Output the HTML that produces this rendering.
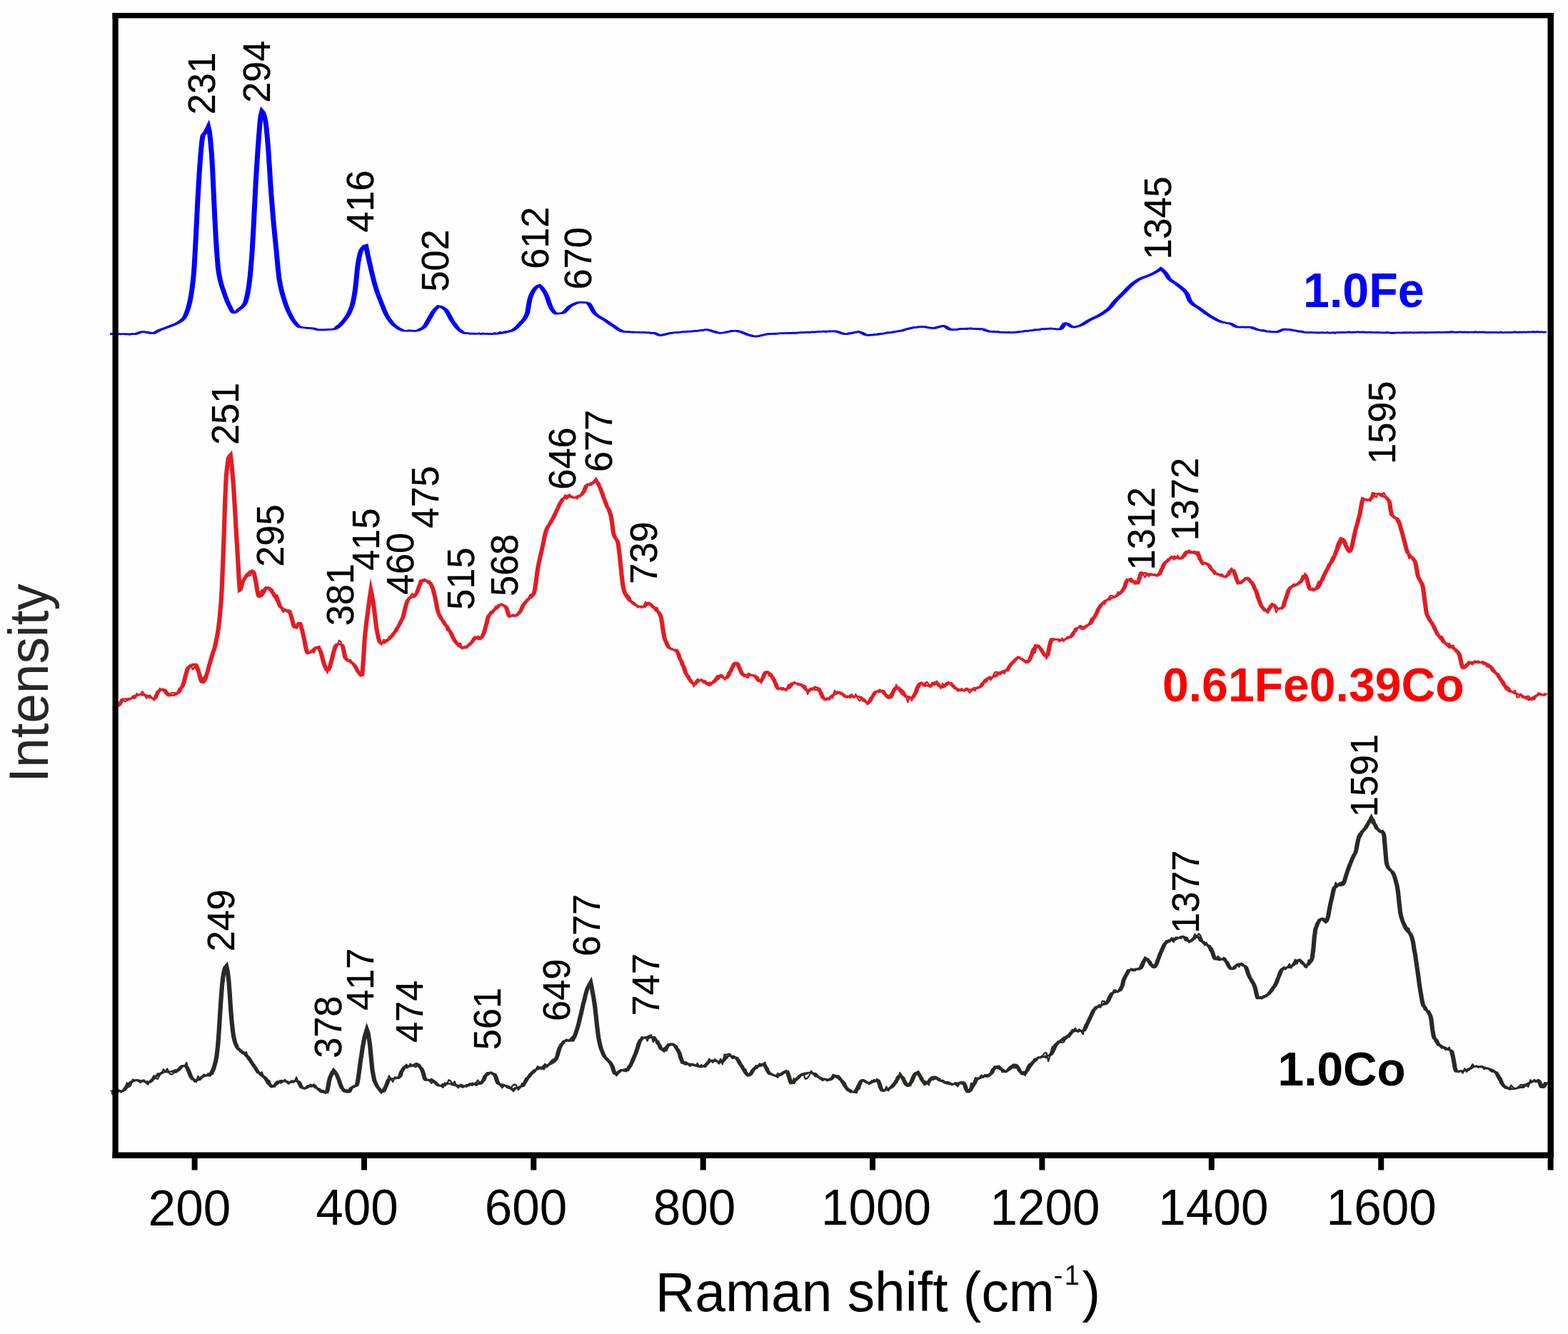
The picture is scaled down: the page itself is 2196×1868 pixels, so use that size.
<!DOCTYPE html><html><head><meta charset="utf-8"><title>Raman spectra</title><style>html,body{margin:0;padding:0;background:#fff}svg{display:block}text{font-family:"Liberation Sans",Arial,sans-serif}</style></head><body>
<svg width="2196" height="1868" viewBox="0 0 2196 1868">
<rect width="2196" height="1868" fill="#fefefe"/>
<path transform="scale(2.7,1)" d="M57.04,467.70 57.60,467.70 58.16,467.70 58.72,467.70 59.28,467.70 59.84,467.70 60.40,467.70 60.96,467.70 61.52,467.70 62.08,467.70 62.64,467.70 63.20,467.70 63.76,467.70 64.32,467.70 64.88,467.70 65.44,467.70 66.00,467.70 66.56,467.70 67.12,467.70 67.69,467.70 68.25,467.70 68.81,467.70 69.37,467.70 69.85,467.70 69.93,467.70 70.49,467.50 71.05,467.08 71.61,466.50 72.17,465.87 72.73,465.27 73.29,464.79 73.85,464.53 74.07,464.50 74.41,464.53 74.97,464.69 75.53,464.97 76.09,465.31 76.65,465.69 77.21,466.07 77.77,466.40 78.33,466.65 78.89,466.79 79.11,466.80 79.45,466.72 80.02,466.28 80.58,465.56 81.14,464.68 81.70,463.75 82.26,462.88 82.70,462.30 82.82,462.17 83.38,461.57 83.94,461.00 84.50,460.45 85.06,459.91 85.62,459.36 86.18,458.81 86.74,458.24 86.96,458.00 87.30,457.64 87.86,457.07 88.42,456.51 88.98,455.96 89.54,455.39 90.10,454.80 90.66,454.18 91.22,453.50 91.78,452.77 92.34,451.96 92.70,451.40 92.91,451.07 93.47,450.07 94.03,448.93 94.59,447.58 95.15,445.97 95.56,444.60 95.71,444.02 96.27,441.24 96.83,437.61 97.39,433.32 97.67,431.00 97.95,428.42 98.51,422.22 99.07,414.44 99.11,413.80 99.63,404.52 100.19,391.48 100.56,381.00 100.75,373.98 101.31,347.21 101.59,332.80 101.87,317.99 102.43,286.77 102.67,275.00 102.99,259.81 103.55,235.49 104.07,217.00 104.11,215.78 104.67,198.97 105.19,190.00 105.23,189.70 105.80,187.55 106.30,186.00 106.36,185.75 106.92,183.24 107.48,180.43 108.04,177.30 108.59,183.31 109.15,196.41 109.71,213.52 109.81,217.00 110.27,238.10 110.82,271.32 110.89,275.00 111.38,302.88 111.94,331.67 111.96,332.80 112.49,354.33 113.05,373.04 113.41,381.00 113.61,384.17 114.16,391.62 114.72,397.49 115.28,402.33 115.84,406.68 116.26,410.00 116.39,411.07 116.95,415.35 117.51,419.35 118.06,423.03 118.62,426.37 119.11,429.00 119.18,429.34 119.73,432.40 120.29,435.32 120.85,437.37 121.26,437.90 121.41,437.88 121.96,437.41 122.52,436.49 123.08,435.28 123.63,433.98 124.07,433.00 124.19,432.76 124.75,431.64 125.31,430.49 125.86,429.14 126.42,427.44 126.96,425.30 126.98,425.24 127.53,421.44 128.09,415.46 128.65,407.73 129.11,400.30 129.20,398.64 129.76,385.59 130.32,368.47 130.52,361.70 130.88,347.66 131.43,321.36 131.59,313.50 131.99,292.26 132.55,261.56 132.67,255.70 133.10,235.98 133.66,213.12 134.07,197.80 134.22,192.61 134.77,172.92 135.19,163.00 135.33,160.76 135.89,155.25 136.44,156.96 137.00,161.41 137.56,167.56 137.67,168.90 138.11,177.14 138.67,193.03 139.11,207.50 139.22,211.28 139.78,233.98 140.33,258.10 140.52,265.30 140.89,278.60 141.44,297.32 141.96,313.50 142.00,314.61 142.56,330.29 143.11,345.07 143.37,352.00 143.67,360.46 144.22,376.88 144.78,389.96 144.81,390.60 145.33,398.39 145.89,405.16 146.44,410.86 146.96,415.70 147.00,416.04 147.56,420.92 148.11,425.41 148.67,429.52 149.22,433.28 149.78,436.69 149.81,436.90 150.33,439.82 150.89,442.76 151.44,445.47 152.00,447.90 152.56,450.02 152.67,450.40 153.11,451.93 153.67,453.82 154.22,455.54 154.78,456.92 155.33,457.82 155.56,458.00 155.89,458.18 156.44,458.43 157.00,458.64 157.56,458.81 158.11,458.94 158.67,459.05 159.22,459.15 159.78,459.24 160.33,459.34 160.89,459.45 161.44,459.58 162.00,459.75 162.56,459.95 162.67,460.00 163.11,460.27 163.67,460.75 164.22,461.27 164.78,461.73 165.33,461.98 165.52,462.00 165.89,462.00 166.44,461.98 167.00,461.96 167.56,461.92 168.11,461.87 168.67,461.81 169.22,461.74 169.78,461.66 170.33,461.57 170.89,461.46 171.44,461.35 172.00,461.23 172.56,461.09 172.93,461.00 173.11,460.93 173.67,460.55 174.22,459.89 174.78,458.99 175.33,457.87 175.89,456.56 176.44,455.09 177.00,453.48 177.56,451.76 178.11,449.95 178.67,448.08 179.22,446.18 179.33,445.80 179.78,444.19 180.33,441.92 180.89,439.28 181.44,436.22 182.00,432.65 182.56,428.50 183.11,422.87 183.67,415.26 184.19,406.80 184.22,406.14 184.78,392.63 185.33,377.07 185.78,367.70 185.89,366.04 186.44,358.50 187.00,352.79 187.37,350.40 187.56,349.55 188.11,347.23 188.67,345.35 189.22,344.10 189.78,343.65 190.33,350.96 190.89,358.06 191.44,364.94 192.00,371.60 192.22,374.20 192.56,378.08 193.11,384.51 193.67,390.70 194.22,396.47 194.63,400.30 194.78,401.61 195.33,406.27 195.89,410.61 196.44,414.69 197.00,418.58 197.56,422.36 197.81,424.10 198.11,426.10 198.67,429.87 199.22,433.57 199.78,437.08 200.33,440.28 200.89,443.05 201.04,443.70 201.44,445.40 202.00,447.61 202.56,449.67 203.11,451.56 203.67,453.27 204.22,454.79 204.78,456.10 205.07,456.70 205.33,457.20 205.89,458.28 206.44,459.33 207.00,460.32 207.56,461.22 208.11,461.99 208.67,462.60 209.22,463.01 209.78,463.19 209.89,463.20 210.33,463.20 210.89,463.20 211.44,463.20 212.00,463.20 212.56,463.20 213.11,463.20 213.67,463.20 214.22,463.20 214.78,463.20 215.33,463.20 215.52,463.20 215.89,463.15 216.44,462.90 217.00,462.47 217.56,461.87 218.11,461.15 218.67,460.32 219.22,459.41 219.52,458.90 219.78,458.36 220.33,456.68 220.89,454.45 221.44,451.89 222.00,449.21 222.56,446.61 222.74,445.80 223.11,444.14 223.67,441.46 224.22,438.79 224.78,436.36 225.15,435.00 225.33,434.39 225.89,432.66 226.44,431.09 227.00,429.74 227.56,428.65 228.11,428.82 228.67,429.30 229.22,430.02 229.78,430.92 230.33,431.94 230.78,432.80 230.89,433.03 231.44,434.65 232.00,436.87 232.56,439.50 233.11,442.35 233.67,445.21 234.22,447.89 234.78,450.20 235.33,452.28 235.89,454.36 236.44,456.39 237.00,458.32 237.56,460.09 238.11,461.64 238.67,462.91 238.81,463.20 239.22,463.96 239.78,464.97 240.33,465.81 240.89,466.36 241.22,466.50 241.44,466.54 242.00,466.63 242.56,466.71 243.11,466.79 243.67,466.86 244.22,466.93 244.78,466.99 245.33,467.05 245.89,467.10 246.44,467.15 247.00,467.20 247.56,467.24 248.11,467.28 248.67,467.32 249.22,467.35 249.78,467.37 250.33,467.40 250.89,467.42 251.44,467.44 252.00,467.46 252.56,467.47 253.11,467.48 253.67,467.49 254.22,467.49 254.78,467.50 255.33,467.50 255.70,467.50 255.89,467.50 256.44,467.47 257.00,467.41 257.56,467.32 258.11,467.19 258.67,467.04 259.22,466.85 259.78,466.64 260.33,466.41 260.89,466.14 261.44,465.85 262.00,465.54 262.56,465.20 263.11,464.84 263.67,464.46 264.22,464.06 264.78,463.64 265.33,463.20 265.89,462.62 266.44,461.78 267.00,460.73 267.56,459.49 268.11,458.11 268.67,456.60 269.22,455.02 269.78,453.39 270.15,452.30 270.33,451.76 270.89,450.13 271.44,448.38 272.00,446.37 272.56,443.93 273.11,440.94 273.37,439.30 273.67,436.38 274.22,427.78 274.78,419.44 274.96,417.60 275.33,414.80 275.89,411.18 276.44,408.20 277.00,405.85 277.37,404.60 277.56,404.04 278.11,402.46 278.67,401.09 279.22,400.08 279.78,399.55 280.34,400.88 280.91,402.57 281.47,404.57 282.04,406.83 282.61,409.29 283.00,411.10 283.17,411.96 283.74,415.54 284.30,419.85 284.87,424.35 285.43,428.52 286.00,431.84 286.22,432.80 286.56,434.11 287.13,436.21 287.70,437.96 288.26,439.07 288.63,439.30 288.83,439.29 289.39,439.22 289.96,439.08 290.52,438.87 291.09,438.61 291.65,438.31 291.85,438.20 292.22,437.84 292.79,436.80 293.35,435.33 293.92,433.62 294.48,431.86 295.05,430.22 295.61,428.91 295.85,428.50 296.18,428.00 296.74,427.17 297.31,426.37 297.88,425.63 298.44,424.96 299.01,424.36 299.57,423.86 300.14,423.47 300.70,423.20 301.26,423.22 301.82,423.28 302.37,423.37 302.93,423.49 303.48,423.65 304.04,423.84 304.60,424.06 304.70,424.10 305.15,424.66 305.71,426.24 306.27,428.50 306.82,431.16 307.38,433.93 307.93,436.50 308.49,438.59 308.74,439.30 309.05,440.03 309.60,441.24 310.16,442.33 310.71,443.32 311.27,444.25 311.83,445.14 312.38,446.02 312.94,446.93 313.50,447.89 313.56,448.00 314.05,448.90 314.61,449.92 315.16,450.95 315.72,451.98 316.28,453.00 316.83,454.01 317.39,455.00 317.94,455.97 318.37,456.70 318.50,456.92 319.06,457.95 319.61,459.05 320.17,460.16 320.73,461.25 321.28,462.25 321.84,463.11 322.39,463.78 322.95,464.21 323.19,464.30 323.51,464.39 324.06,464.52 324.62,464.64 325.18,464.75 325.73,464.84 326.29,464.92 326.84,464.99 327.40,465.06 327.96,465.11 328.51,465.16 329.07,465.20 329.62,465.24 330.18,465.27 330.74,465.30 331.29,465.33 331.85,465.36 332.41,465.39 332.96,465.43 333.52,465.47 334.07,465.51 334.63,465.56 335.19,465.61 335.74,465.68 336.30,465.75 336.85,465.83 337.41,465.93 337.97,466.04 338.52,466.16 339.07,466.30 339.08,466.30 339.64,466.62 340.19,467.20 340.75,467.90 341.30,468.59 341.86,469.13 342.42,469.39 342.52,469.40 342.97,469.36 343.53,469.19 344.09,468.93 344.64,468.60 345.20,468.22 345.75,467.81 346.31,467.40 346.87,467.01 347.42,466.67 347.98,466.39 348.22,466.30 348.53,466.20 349.09,466.02 349.65,465.86 350.20,465.70 350.76,465.56 351.32,465.42 351.87,465.29 352.43,465.17 352.98,465.05 353.54,464.94 354.10,464.83 354.65,464.73 355.21,464.62 355.76,464.52 356.32,464.42 356.88,464.32 357.43,464.21 357.99,464.11 358.55,464.00 359.10,463.88 359.66,463.76 360.21,463.64 360.77,463.51 361.33,463.37 361.88,463.22 361.96,463.20 362.44,463.05 362.99,462.83 363.55,462.59 364.11,462.35 364.66,462.12 365.22,461.92 365.78,461.78 366.33,461.71 366.52,461.70 366.89,461.74 367.44,461.93 368.00,462.26 368.56,462.69 369.11,463.19 369.67,463.74 370.23,464.30 370.78,464.85 371.34,465.35 371.89,465.77 372.45,466.09 373.01,466.27 373.33,466.30 373.56,466.29 374.12,466.22 374.67,466.07 375.23,465.86 375.79,465.61 376.34,465.32 376.90,465.01 377.46,464.69 378.01,464.37 378.57,464.07 379.12,463.79 379.68,463.55 380.24,463.37 380.79,463.25 381.35,463.20 381.37,463.20 381.90,463.26 382.46,463.44 383.02,463.73 383.57,464.12 384.13,464.58 384.69,465.11 385.24,465.68 385.80,466.29 386.35,466.91 386.91,467.54 387.47,468.16 388.02,468.76 388.58,469.32 389.13,469.82 389.69,470.25 390.25,470.60 390.80,470.84 391.36,470.98 391.67,471.00 391.92,470.99 392.47,470.90 393.03,470.72 393.58,470.47 394.14,470.17 394.70,469.83 395.25,469.48 395.81,469.12 396.37,468.76 396.92,468.44 397.48,468.16 398.03,467.93 398.52,467.80 398.59,467.78 399.15,467.67 399.70,467.56 400.26,467.46 400.81,467.36 401.37,467.27 401.93,467.18 402.48,467.10 403.04,467.02 403.60,466.95 404.15,466.88 404.71,466.81 405.26,466.74 405.82,466.68 406.38,466.62 406.93,466.56 407.49,466.51 408.04,466.45 408.60,466.40 409.16,466.34 409.71,466.29 410.27,466.24 410.83,466.19 411.38,466.14 411.94,466.09 412.49,466.03 413.05,465.98 413.61,465.92 414.16,465.87 414.72,465.81 415.27,465.74 415.67,465.70 415.83,465.68 416.39,465.61 416.94,465.54 417.50,465.47 418.06,465.39 418.61,465.32 419.17,465.24 419.72,465.16 420.28,465.07 420.84,464.99 421.39,464.91 421.95,464.83 422.51,464.75 423.06,464.67 423.62,464.59 424.17,464.51 424.73,464.43 425.29,464.36 425.84,464.29 426.40,464.22 426.95,464.16 427.51,464.10 428.07,464.05 428.62,464.00 429.18,463.95 429.74,463.91 430.29,463.87 430.85,463.85 431.40,463.82 431.96,463.81 432.52,463.80 432.81,463.80 433.07,463.82 433.63,464.02 434.18,464.38 434.74,464.86 435.30,465.41 435.85,466.00 436.41,466.56 436.97,467.07 437.52,467.48 438.08,467.73 438.52,467.80 438.63,467.80 439.19,467.72 439.75,467.54 440.30,467.28 440.86,466.96 441.41,466.61 441.97,466.23 442.53,465.86 443.08,465.51 443.64,465.19 444.20,464.94 444.75,464.77 445.31,464.70 445.37,464.70 445.86,464.85 446.42,465.32 446.98,466.02 447.53,466.84 448.09,467.69 448.65,468.46 449.20,469.06 449.76,469.37 449.96,469.40 450.31,469.39 450.87,469.36 451.43,469.29 451.98,469.20 452.54,469.09 453.09,468.95 453.65,468.79 454.21,468.62 454.76,468.43 455.32,468.22 455.88,468.01 456.43,467.78 456.99,467.55 457.54,467.31 458.10,467.07 458.66,466.82 459.21,466.58 459.77,466.35 460.32,466.11 460.88,465.89 461.37,465.70 461.44,465.67 461.99,465.46 462.55,465.25 463.11,465.03 463.66,464.80 464.22,464.57 464.77,464.32 465.33,464.07 465.89,463.81 466.44,463.54 467.00,463.26 467.11,463.20 467.55,462.95 468.11,462.59 468.67,462.20 469.22,461.77 469.78,461.33 470.34,460.89 470.89,460.44 471.45,460.02 472.00,459.62 472.56,459.26 473.12,458.95 473.67,458.70 473.96,458.60 474.23,458.51 474.79,458.34 475.34,458.17 475.90,458.01 476.45,457.87 477.01,457.75 477.57,457.66 478.12,457.61 478.52,457.60 478.68,457.60 479.23,457.68 479.79,457.84 480.35,458.06 480.90,458.32 481.46,458.59 482.02,458.87 482.57,459.11 483.13,459.32 483.68,459.45 484.22,459.50 484.24,459.50 484.80,459.39 485.35,459.12 485.91,458.72 486.46,458.25 487.02,457.75 487.58,457.27 488.13,456.85 488.69,456.55 489.25,456.41 489.37,456.40 489.80,456.57 490.36,457.21 490.91,458.16 491.47,459.25 492.03,460.31 492.58,461.16 493.14,461.65 493.37,461.70 493.69,461.69 494.25,461.65 494.81,461.56 495.36,461.45 495.92,461.32 496.48,461.16 497.03,461.00 497.59,460.83 498.14,460.67 498.70,460.52 499.26,460.38 499.81,460.26 500.37,460.17 500.93,460.11 501.37,460.10 501.48,460.10 502.04,460.10 502.59,460.11 503.15,460.13 503.71,460.15 504.26,460.17 504.82,460.21 505.37,460.24 505.93,460.29 506.49,460.34 507.04,460.39 507.60,460.46 508.16,460.53 508.71,460.60 509.27,460.68 509.37,460.70 509.82,460.88 510.38,461.35 510.94,461.99 511.49,462.67 512.05,463.28 512.60,463.71 512.81,463.80 513.16,463.91 513.72,464.08 514.27,464.24 514.83,464.39 515.39,464.54 515.94,464.68 516.50,464.81 517.05,464.93 517.61,465.04 518.17,465.14 518.72,465.24 519.28,465.33 519.83,465.40 520.39,465.47 520.95,465.53 521.50,465.58 522.06,465.63 522.62,465.66 523.17,465.68 523.73,465.70 524.26,465.70 524.28,465.70 524.84,465.68 525.40,465.63 525.95,465.54 526.51,465.43 527.07,465.30 527.62,465.14 528.18,464.97 528.73,464.79 529.29,464.59 529.85,464.39 530.40,464.19 530.96,463.99 531.51,463.79 532.07,463.60 532.63,463.42 533.18,463.25 533.37,463.20 533.74,463.10 534.30,462.93 534.85,462.75 535.41,462.56 535.96,462.37 536.52,462.17 537.08,461.97 537.63,461.77 538.19,461.57 538.74,461.38 539.30,461.19 539.86,461.01 540.41,460.84 540.97,460.68 541.53,460.54 542.08,460.41 542.64,460.30 543.19,460.22 543.75,460.15 544.31,460.11 544.81,460.10 544.86,460.10 545.42,460.14 545.97,460.22 546.53,460.34 547.09,460.48 547.64,460.63 548.20,460.77 548.76,460.89 549.31,460.97 549.85,461.00 549.87,461.00 550.42,460.12 550.98,458.09 551.54,455.67 552.09,453.59 552.65,452.61 552.70,452.60 553.21,452.83 553.76,453.53 554.32,454.53 554.87,455.64 555.43,456.71 555.99,457.54 556.54,457.97 556.70,458.00 557.10,457.96 557.65,457.77 558.21,457.48 558.77,457.11 559.32,456.70 559.59,456.50 559.88,456.27 560.44,455.70 560.99,455.00 561.55,454.20 562.10,453.31 562.66,452.38 563.22,451.41 563.77,450.45 564.33,449.50 564.88,448.61 565.30,448.00 565.44,447.80 566.00,447.03 566.55,446.29 567.11,445.58 567.67,444.87 568.22,444.16 568.78,443.43 569.33,442.68 569.89,441.90 570.45,441.08 571.00,440.20 571.00,440.20 571.56,439.27 572.11,438.31 572.67,437.30 573.23,436.25 573.78,435.13 574.34,433.95 574.90,432.69 575.45,431.35 575.59,431.00 576.01,429.85 576.56,428.08 577.12,426.15 577.68,424.19 578.23,422.35 578.44,421.70 578.79,420.69 579.35,419.12 579.90,417.61 580.46,416.13 581.01,414.67 581.57,413.22 582.13,411.75 582.44,410.90 582.68,410.25 583.24,408.70 583.79,407.13 584.35,405.54 584.91,403.97 585.46,402.44 586.02,400.97 586.58,399.59 587.00,398.60 587.13,398.31 587.69,397.08 588.24,395.88 588.80,394.73 589.36,393.64 589.91,392.63 590.47,391.70 591.00,390.90 591.02,390.87 591.58,390.13 592.14,389.46 592.69,388.85 593.25,388.27 593.81,387.73 594.36,387.20 594.92,386.66 595.47,386.11 596.03,385.52 596.59,384.89 596.74,384.70 597.14,384.20 597.70,383.49 598.25,382.75 598.81,381.97 599.37,381.15 599.59,380.80 599.92,380.27 600.48,379.34 601.04,378.34 601.59,377.29 602.15,376.20 602.70,377.32 603.26,378.67 603.82,380.22 604.37,381.91 604.74,383.10 604.93,383.77 605.48,386.18 606.04,388.66 606.44,390.10 606.59,390.52 607.15,391.93 607.71,393.15 608.26,394.24 608.82,395.24 609.37,396.20 609.93,397.18 610.48,398.23 611.04,399.40 611.04,399.41 611.60,400.61 612.15,401.76 612.71,402.91 613.26,404.11 613.82,405.42 614.37,406.88 614.93,408.56 615.49,410.50 615.59,410.90 616.04,413.40 616.60,417.56 617.15,421.12 617.30,421.70 617.71,423.04 618.27,424.61 618.82,425.95 619.38,427.11 619.93,428.14 620.49,429.10 621.04,430.01 621.60,430.95 622.16,431.94 622.44,432.50 622.71,433.03 623.27,434.15 623.82,435.27 624.38,436.39 624.93,437.49 625.49,438.58 626.05,439.64 626.60,440.67 627.16,441.66 627.71,442.60 628.15,443.30 628.27,443.49 628.82,444.37 629.38,445.25 629.94,446.12 630.49,446.97 631.05,447.78 631.60,448.55 632.16,449.27 632.72,449.91 633.27,450.48 633.83,450.95 633.89,451.00 634.38,451.33 634.94,451.64 635.49,451.90 636.05,452.14 636.61,452.37 637.16,452.62 637.72,452.91 638.27,453.27 638.44,453.40 638.83,453.79 639.38,454.62 639.94,455.62 640.50,456.61 641.05,457.44 641.61,457.93 641.89,458.00 642.16,458.00 642.72,458.00 643.27,458.00 643.83,458.00 644.39,458.00 644.94,458.00 645.50,458.00 646.05,458.00 646.61,458.00 647.16,458.00 647.72,458.00 648.15,458.00 648.28,458.01 648.83,458.19 649.39,458.57 649.94,459.10 650.50,459.72 651.06,460.37 651.61,460.98 652.17,461.51 652.72,461.89 652.74,461.90 653.28,462.17 653.83,462.45 654.39,462.73 654.95,463.00 655.50,463.26 656.06,463.51 656.61,463.75 657.17,463.98 657.72,464.18 658.28,464.37 658.84,464.54 659.39,464.69 659.95,464.81 660.50,464.90 661.06,464.96 661.61,465.00 661.89,465.00 662.17,464.96 662.73,464.64 663.28,464.11 663.84,463.43 664.39,462.70 664.95,462.01 665.50,461.44 666.06,461.08 666.44,461.00 666.62,461.00 667.17,461.05 667.73,461.15 668.28,461.30 668.84,461.49 669.40,461.71 669.95,461.97 670.51,462.24 671.06,462.54 671.62,462.85 672.17,463.17 672.73,463.49 673.29,463.81 673.84,464.11 674.40,464.40 674.95,464.67 675.51,464.91 676.06,465.12 676.62,465.29 677.18,465.42 677.73,465.50 677.78,465.50 678.29,465.54 678.84,465.58 679.40,465.62 679.95,465.66 680.51,465.70 681.07,465.74 681.62,465.77 682.18,465.80 682.73,465.83 683.29,465.86 683.85,465.89 684.40,465.91 684.96,465.93 685.51,465.95 686.07,465.96 686.62,465.98 687.18,465.99 687.74,465.99 688.29,466.00 688.85,466.00 688.89,466.00 689.40,466.00 689.96,465.99 690.51,465.97 691.07,465.94 691.63,465.91 692.18,465.87 692.74,465.83 693.29,465.79 693.85,465.74 694.40,465.69 694.96,465.63 695.52,465.58 696.07,465.52 696.63,465.47 697.18,465.41 697.74,465.36 698.29,465.30 698.85,465.25 699.41,465.20 699.96,465.16 700.52,465.12 701.07,465.08 701.63,465.05 702.19,465.03 702.74,465.01 703.30,465.00 703.70,465.00 703.85,465.00 704.41,465.00 704.96,465.01 705.52,465.03 706.08,465.05 706.63,465.07 707.19,465.09 707.74,465.12 708.30,465.15 708.85,465.19 709.41,465.23 709.97,465.27 710.52,465.31 711.08,465.35 711.63,465.39 712.19,465.44 712.74,465.48 713.30,465.53 713.86,465.57 714.41,465.62 714.97,465.66 715.52,465.70 716.08,465.74 716.63,465.78 717.19,465.82 717.75,465.85 718.30,465.88 718.86,465.91 719.41,465.94 719.97,465.96 720.53,465.98 721.08,465.99 721.64,466.00 722.19,466.00 722.22,466.00 722.75,466.00 723.30,466.00 723.86,465.99 724.42,465.99 724.97,465.98 725.53,465.97 726.08,465.96 726.64,465.95 727.19,465.94 727.75,465.92 728.31,465.91 728.86,465.89 729.42,465.88 729.97,465.86 730.53,465.84 731.08,465.83 731.64,465.81 732.20,465.79 732.75,465.77 733.31,465.75 733.86,465.73 734.42,465.71 734.98,465.69 735.53,465.67 736.09,465.65 736.64,465.63 737.20,465.61 737.75,465.59 738.31,465.57 738.87,465.56 739.42,465.54 739.98,465.52 740.53,465.51 740.74,465.50 741.09,465.49 741.64,465.47 742.20,465.46 742.76,465.44 743.31,465.42 743.87,465.40 744.42,465.38 744.98,465.37 745.53,465.35 746.09,465.33 746.65,465.31 747.20,465.29 747.76,465.27 748.31,465.25 748.87,465.23 749.42,465.21 749.98,465.19 750.54,465.17 751.09,465.15 751.65,465.13 752.20,465.12 752.76,465.10 753.32,465.09 753.87,465.07 754.43,465.06 754.98,465.05 755.54,465.04 756.09,465.03 756.65,465.02 757.21,465.01 757.76,465.01 758.32,465.00 758.87,465.00 759.26,465.00 759.43,465.00 759.98,465.00 760.54,465.01 761.10,465.01 761.65,465.02 762.21,465.03 762.76,465.05 763.32,465.06 763.87,465.08 764.43,465.10 764.99,465.11 765.54,465.13 766.10,465.15 766.65,465.18 767.21,465.20 767.77,465.22 768.32,465.24 768.88,465.26 769.43,465.29 769.99,465.31 770.54,465.33 771.10,465.35 771.66,465.37 772.21,465.39 772.77,465.41 773.32,465.43 773.88,465.44 774.43,465.46 774.99,465.47 775.55,465.48 776.10,465.49 776.66,465.49 777.21,465.50 777.77,465.50 777.78,465.50 778.32,465.50 778.88,465.49 779.44,465.48 779.99,465.47 780.55,465.45 781.10,465.44 781.66,465.42 782.21,465.39 782.77,465.37 783.33,465.34 783.88,465.32 784.44,465.29 784.99,465.26 785.55,465.23 786.11,465.20 786.66,465.18 787.22,465.15 787.77,465.12 788.33,465.10 788.88,465.08 789.44,465.06 790.00,465.04 790.55,465.03 791.11,465.01 791.66,465.01 792.22,465.00 792.59,465.00 792.77,465.00 793.33,465.00 793.89,465.00 794.44,465.00 795.00,465.00 795.55,465.00 796.11,465.00 796.66,465.00 797.22,465.00 797.78,465.00 798.33,465.00 798.89,465.00 799.44,465.00 800.00,465.00 800.55,465.00 801.11,465.00 801.67,465.00 802.22,465.00" fill="none" stroke="#0000ff" stroke-width="2.6" stroke-linejoin="miter" stroke-miterlimit="30" stroke-linecap="butt"/>
<path transform="scale(1.0,1)" d="M155.00,467.3 157.70,467.8 160.40,468.0 163.10,467.9 165.80,467.4 168.50,468.1 171.20,467.9 173.90,467.9 176.60,468.0 179.30,468.1 182.00,468.5 184.70,467.5 187.40,467.7 190.10,467.9 192.80,466.1 195.50,465.9 198.20,464.8 200.90,464.6 203.60,465.3 206.30,464.9 209.00,465.7 211.70,466.0 214.40,466.3 217.10,464.9 219.80,464.5 222.50,462.5 225.20,462.2 227.90,460.4 230.60,459.7 233.30,458.6 236.00,457.5 238.70,455.9 241.40,455.3 244.10,454.2 246.80,453.0 249.50,452.0 252.20,449.4 254.90,447.2 257.60,444.7 260.30,438.5 263.00,432.8 265.70,422.0 268.40,407.0 271.10,385.2 273.80,341.5 276.50,289.0 279.20,244.8 281.90,209.3 284.60,189.8 287.30,185.3 290.00,181.1 292.70,185.5 295.40,207.5 298.10,248.7 300.80,303.3 303.50,347.9 306.20,381.4 308.90,390.8 311.60,401.2 314.30,410.6 317.00,417.0 319.70,424.3 322.40,430.8 325.10,434.8 327.80,437.4 330.50,436.3 333.20,434.0 335.90,432.2 338.60,429.7 341.30,426.6 344.00,419.8 346.70,408.7 349.40,392.1 352.10,364.6 354.80,322.0 357.50,269.6 360.20,225.4 362.90,187.0 365.60,160.8 368.30,158.9 371.00,166.8 373.70,188.0 376.40,220.1 379.10,260.8 381.80,295.1 384.50,325.1 387.20,353.0 389.90,379.6 392.60,397.9 395.30,408.7 398.00,419.1 400.70,426.8 403.40,433.5 406.10,439.7 408.80,444.1 411.50,449.2 414.20,452.5 416.90,455.4 419.60,457.7 422.30,458.0 425.00,458.7 427.70,458.8 430.40,459.5 433.10,459.2 435.80,460.1 438.50,460.0 441.20,460.6 443.90,461.6 446.60,461.7 449.30,461.7 452.00,461.9 454.70,461.6 457.40,461.5 460.10,461.2 462.80,461.1 465.50,461.4 468.20,460.5 470.90,457.0 473.60,455.6 476.30,453.0 479.00,450.8 481.70,448.1 484.40,445.1 487.10,440.0 489.80,434.3 492.50,428.7 495.20,417.1 497.90,401.4 500.60,376.7 503.30,360.9 506.00,349.8 508.70,347.9 511.40,344.6 514.10,351.5 516.80,364.3 519.50,376.0 522.20,388.0 524.90,398.3 527.60,406.5 530.30,413.6 533.00,420.8 535.70,427.9 538.40,433.5 541.10,440.0 543.80,445.0 546.50,448.5 549.20,451.5 551.90,454.6 554.60,457.6 557.30,458.5 560.00,459.7 562.70,461.0 565.40,463.1 568.10,463.2 570.80,463.0 573.50,462.5 576.20,462.8 578.90,463.3 581.60,463.4 584.30,462.8 587.00,460.9 589.70,460.3 592.40,459.5 595.10,454.5 597.80,452.0 600.50,446.8 603.20,442.4 605.90,438.6 608.60,434.5 611.30,432.1 614.00,429.3 616.70,429.9 619.40,431.0 622.10,432.1 624.80,435.7 627.50,439.2 630.20,444.2 632.90,448.9 635.60,451.8 638.30,455.7 641.00,459.0 643.70,461.9 646.40,464.0 649.10,465.6 651.80,466.7 654.50,466.5 657.20,467.4 659.90,467.3 662.60,467.1 665.30,467.3 668.00,467.4 670.70,466.5 673.40,468.0 676.10,466.6 678.80,467.3 681.50,466.9 684.20,467.6 686.90,467.6 689.60,467.6 692.30,466.2 695.00,467.0 697.70,466.4 700.40,465.1 703.10,465.9 705.80,464.9 708.50,464.2 711.20,464.2 713.90,463.4 716.60,463.2 719.30,460.6 722.00,458.2 724.70,455.8 727.40,454.3 730.10,451.3 732.80,447.0 735.50,443.0 738.20,438.5 740.90,425.9 743.60,415.3 746.30,409.9 749.00,405.1 751.70,402.2 754.40,399.9 757.10,401.6 759.80,405.5 762.50,408.9 765.20,413.7 767.90,420.6 770.60,427.2 773.30,432.9 776.00,436.3 778.70,438.6 781.40,438.9 784.10,438.9 786.80,438.5 789.50,436.5 792.20,434.2 794.90,431.5 797.60,429.1 800.30,428.0 803.00,426.6 805.70,425.4 808.40,424.1 811.10,424.0 813.80,423.2 816.50,423.7 819.20,423.8 821.90,423.7 824.60,426.9 827.30,430.5 830.00,434.7 832.70,438.2 835.40,440.0 838.10,442.2 840.80,444.1 843.50,445.9 846.20,447.3 848.90,448.9 851.60,451.3 854.30,453.3 857.00,454.5 859.70,457.4 862.40,458.5 865.10,459.7 867.80,462.2 870.50,462.5 873.20,464.0 875.90,464.1 878.60,465.0 881.30,464.4 884.00,465.1 886.70,465.0 889.40,464.9 892.10,465.2 894.80,464.9 897.50,465.7 900.20,465.2 902.90,465.4 905.60,466.1 908.30,465.8 911.00,466.7 913.70,466.7 916.40,466.0 919.10,467.5 921.80,468.3 924.50,470.0 927.20,468.7 929.90,468.1 932.60,467.7 935.30,467.2 938.00,466.4 940.70,466.3 943.40,465.8 946.10,465.5 948.80,466.1 951.50,465.4 954.20,464.8 956.90,464.4 959.60,464.6 962.30,464.0 965.00,463.8 967.70,464.4 970.40,463.7 973.10,463.3 975.80,463.4 978.50,462.8 981.20,462.7 983.90,463.0 986.60,462.0 989.30,461.5 992.00,461.9 994.70,463.2 997.40,463.6 1000.10,464.5 1002.80,464.4 1005.50,465.5 1008.20,466.3 1010.90,466.1 1013.60,465.6 1016.30,465.0 1019.00,465.2 1021.70,464.3 1024.40,463.2 1027.10,463.1 1029.80,463.2 1032.50,464.1 1035.20,464.3 1037.90,465.1 1040.60,466.4 1043.30,467.1 1046.00,467.9 1048.70,468.8 1051.40,469.3 1054.10,469.8 1056.80,471.2 1059.50,471.0 1062.20,470.8 1064.90,469.9 1067.60,469.3 1070.30,468.9 1073.00,468.4 1075.70,467.2 1078.40,467.7 1081.10,467.5 1083.80,467.6 1086.50,467.5 1089.20,467.1 1091.90,466.9 1094.60,466.5 1097.30,467.0 1100.00,466.6 1102.70,466.5 1105.40,466.9 1108.10,466.7 1110.80,466.1 1113.50,466.7 1116.20,466.3 1118.90,465.9 1121.60,465.4 1124.30,465.3 1127.00,465.8 1129.70,464.7 1132.40,465.9 1135.10,465.4 1137.80,464.9 1140.50,465.5 1143.20,464.9 1145.90,464.3 1148.60,464.4 1151.30,464.1 1154.00,464.0 1156.70,465.0 1159.40,464.2 1162.10,464.0 1164.80,464.2 1167.50,464.0 1170.20,464.0 1172.90,464.5 1175.60,464.9 1178.30,466.6 1181.00,466.9 1183.70,468.0 1186.40,467.4 1189.10,466.4 1191.80,466.3 1194.50,466.5 1197.20,465.3 1199.90,465.3 1202.60,463.9 1205.30,465.5 1208.00,467.1 1210.70,467.1 1213.40,469.2 1216.10,469.1 1218.80,468.7 1221.50,469.1 1224.20,468.1 1226.90,468.3 1229.60,467.5 1232.30,467.4 1235.00,467.4 1237.70,467.1 1240.40,466.3 1243.10,465.2 1245.80,466.3 1248.50,465.1 1251.20,465.3 1253.90,464.1 1256.60,463.8 1259.30,463.6 1262.00,463.0 1264.70,463.0 1267.40,461.1 1270.10,460.8 1272.80,460.4 1275.50,459.8 1278.20,459.0 1280.90,458.6 1283.60,458.7 1286.30,457.9 1289.00,457.7 1291.70,457.6 1294.40,458.2 1297.10,457.7 1299.80,459.2 1302.50,458.8 1305.20,459.0 1307.90,459.3 1310.60,458.4 1313.30,457.9 1316.00,457.5 1318.70,457.2 1321.40,456.7 1324.10,457.6 1326.80,459.0 1329.50,460.6 1332.20,461.0 1334.90,461.4 1337.60,461.7 1340.30,461.7 1343.00,460.8 1345.70,460.2 1348.40,460.3 1351.10,460.7 1353.80,460.8 1356.50,460.1 1359.20,459.7 1361.90,460.4 1364.60,460.7 1367.30,460.8 1370.00,460.7 1372.70,461.5 1375.40,460.7 1378.10,462.6 1380.80,462.2 1383.50,464.0 1386.20,464.3 1388.90,464.4 1391.60,464.0 1394.30,464.4 1397.00,464.2 1399.70,464.8 1402.40,465.0 1405.10,465.3 1407.80,464.8 1410.50,465.1 1413.20,464.8 1415.90,465.7 1418.60,465.0 1421.30,465.5 1424.00,464.6 1426.70,464.7 1429.40,464.2 1432.10,464.0 1434.80,463.7 1437.50,463.0 1440.20,463.5 1442.90,462.6 1445.60,463.1 1448.30,461.5 1451.00,461.9 1453.70,462.1 1456.40,461.9 1459.10,460.6 1461.80,461.1 1464.50,460.8 1467.20,460.6 1469.90,460.1 1472.60,459.9 1475.30,460.4 1478.00,460.8 1480.70,461.1 1483.40,460.9 1486.10,459.1 1488.80,456.7 1491.50,453.0 1494.20,453.3 1496.90,454.7 1499.60,456.2 1502.30,457.7 1505.00,458.3 1507.70,457.3 1510.40,456.9 1513.10,455.1 1515.80,453.4 1518.50,452.2 1521.20,450.6 1523.90,450.1 1526.60,448.4 1529.30,446.8 1532.00,445.1 1534.70,443.3 1537.40,442.3 1540.10,440.8 1542.80,439.1 1545.50,437.5 1548.20,436.0 1550.90,434.1 1553.60,431.3 1556.30,428.4 1559.00,425.2 1561.70,421.6 1564.40,419.6 1567.10,416.6 1569.80,413.7 1572.50,411.2 1575.20,408.2 1577.90,405.5 1580.60,403.4 1583.30,400.6 1586.00,397.9 1588.70,395.4 1591.40,394.9 1594.10,392.2 1596.80,390.8 1599.50,389.1 1602.20,388.5 1604.90,387.5 1607.60,386.3 1610.30,385.5 1613.00,383.2 1615.70,382.9 1618.40,381.0 1621.10,379.2 1623.80,377.6 1626.50,377.1 1629.20,379.7 1631.90,382.1 1634.60,386.1 1637.30,391.0 1640.00,392.3 1642.70,394.0 1645.40,396.6 1648.10,398.5 1650.80,400.1 1653.50,403.3 1656.20,404.9 1658.90,408.1 1661.60,411.1 1664.30,415.7 1667.00,421.8 1669.70,423.8 1672.40,426.6 1675.10,428.0 1677.80,430.3 1680.50,432.6 1683.20,434.7 1685.90,436.5 1688.60,437.8 1691.30,439.3 1694.00,442.2 1696.70,443.7 1699.40,445.2 1702.10,446.1 1704.80,447.7 1707.50,449.5 1710.20,449.8 1712.90,451.2 1715.60,451.3 1718.30,452.8 1721.00,452.9 1723.70,453.0 1726.40,454.1 1729.10,456.1 1731.80,457.4 1734.50,457.9 1737.20,458.5 1739.90,457.7 1742.60,458.3 1745.30,458.5 1748.00,457.8 1750.70,458.5 1753.40,459.6 1756.10,459.4 1758.80,460.5 1761.50,461.2 1764.20,462.3 1766.90,463.1 1769.60,462.3 1772.30,463.2 1775.00,464.4 1777.70,463.6 1780.40,464.4 1783.10,464.7 1785.80,464.7 1788.50,464.9 1791.20,463.8 1793.90,462.8 1796.60,461.8 1799.30,461.5 1802.00,461.4 1804.70,461.5 1807.40,462.0 1810.10,462.7 1812.80,463.1 1815.50,462.9 1818.20,464.1 1820.90,463.7 1823.60,463.9 1826.30,464.8 1829.00,465.5 1831.70,465.9 1834.40,465.2 1837.10,465.5 1839.80,466.0 1842.50,465.7 1845.20,466.2 1847.90,466.0 1850.60,465.3 1853.30,465.6 1856.00,466.2 1858.70,465.1 1861.40,466.3 1864.10,465.8 1866.80,465.5 1869.50,466.6 1872.20,465.4 1874.90,465.4 1877.60,465.5 1880.30,465.4 1883.00,465.6 1885.70,465.5 1888.40,464.5 1891.10,465.6 1893.80,465.5 1896.50,465.4 1899.20,465.2 1901.90,464.5 1904.60,465.4 1907.30,465.0 1910.00,464.8 1912.70,465.3 1915.40,465.5 1918.10,465.0 1920.80,465.0 1923.50,465.7 1926.20,465.9 1928.90,465.4 1931.60,465.7 1934.30,465.7 1937.00,466.2 1939.70,465.9 1942.40,465.2 1945.10,465.6 1947.80,466.4 1950.50,466.5 1953.20,466.4 1955.90,465.9 1958.60,465.6 1961.30,466.1 1964.00,465.8 1966.70,465.7 1969.40,465.6 1972.10,465.9 1974.80,465.4 1977.50,465.6 1980.20,466.4 1982.90,465.6 1985.60,466.1 1988.30,465.7 1991.00,465.7 1993.70,465.6 1996.40,466.3 1999.10,465.6 2001.80,465.6 2004.50,465.5 2007.20,465.3 2009.90,465.8 2012.60,465.1 2015.30,464.8 2018.00,465.4 2020.70,465.5 2023.40,464.8 2026.10,465.3 2028.80,465.2 2031.50,464.6 2034.20,464.4 2036.90,465.3 2039.60,465.1 2042.30,465.4 2045.00,464.6 2047.70,465.4 2050.40,465.0 2053.10,465.2 2055.80,465.7 2058.50,465.1 2061.20,465.1 2063.90,465.0 2066.60,464.7 2069.30,465.2 2072.00,464.7 2074.70,464.9 2077.40,464.6 2080.10,465.6 2082.80,465.3 2085.50,465.8 2088.20,465.2 2090.90,465.3 2093.60,465.2 2096.30,465.1 2099.00,466.1 2101.70,464.5 2104.40,465.9 2107.10,465.8 2109.80,465.2 2112.50,465.4 2115.20,465.9 2117.90,465.3 2120.60,464.5 2123.30,465.0 2126.00,465.6 2128.70,464.8 2131.40,465.5 2134.10,464.9 2136.80,465.3 2139.50,464.8 2142.20,464.8 2144.90,464.9 2147.60,464.2 2150.30,465.2 2153.00,464.2 2155.70,465.0 2158.40,464.6 2161.10,465.1 2163.80,465.4" fill="none" stroke="#0000ff" stroke-width="2.3" stroke-linejoin="round"/>
<path transform="scale(2.7,1)" d="M58.52,990.00 59.08,990.31 59.64,989.78 60.20,988.53 60.76,989.07 61.32,987.96 61.44,987.80 61.88,987.00 62.44,984.39 63.00,981.54 63.56,979.27 63.96,978.70 64.12,978.70 64.68,978.62 65.24,978.46 65.80,979.00 66.36,978.70 66.48,978.70 66.92,978.24 67.48,978.25 68.04,977.96 68.60,977.26 69.16,977.39 69.72,976.53 70.28,973.92 70.84,973.58 71.40,973.72 71.96,972.95 72.52,972.72 73.08,972.31 73.64,973.01 74.04,971.90 74.20,971.91 74.76,973.20 75.32,973.05 75.88,973.81 76.44,974.11 77.00,974.50 77.56,976.37 78.12,977.22 78.68,977.30 79.24,978.10 79.80,978.69 79.93,978.70 80.36,977.87 80.92,975.25 81.48,971.71 82.04,968.34 82.44,967.30 82.60,967.04 83.16,966.30 83.72,965.02 84.28,965.04 84.52,965.00 84.84,965.62 85.40,965.71 85.96,968.41 86.52,969.94 87.08,971.24 87.64,973.21 88.20,974.08 88.30,974.10 88.76,973.56 89.32,973.33 89.88,973.71 90.44,973.03 90.81,973.00 91.00,972.84 91.56,971.17 92.12,970.79 92.68,969.53 93.24,966.66 93.80,963.99 94.36,962.13 94.92,958.93 95.04,958.30 95.48,954.90 96.04,948.42 96.60,942.73 97.16,937.39 97.56,935.60 97.72,935.17 98.28,932.96 98.84,931.96 99.40,931.99 99.96,931.09 100.52,929.89 101.08,929.93 101.33,929.90 101.64,930.61 102.20,933.80 102.76,938.35 103.32,943.88 103.88,949.33 104.44,954.33 105.00,955.93 105.11,956.00 105.56,955.39 106.12,952.28 106.68,949.37 107.24,944.08 107.80,939.41 108.36,933.24 108.92,928.11 109.30,924.30 109.48,922.75 110.04,917.61 110.60,912.53 111.16,909.05 111.72,902.34 112.28,895.30 112.67,890.20 112.84,887.59 113.40,877.71 113.96,864.05 114.52,847.29 114.78,838.10 115.08,824.32 115.64,786.55 116.04,758.70 116.20,747.17 116.76,699.98 117.30,668.00 117.32,667.36 117.88,652.61 118.44,641.78 118.56,640.80 119.00,638.61 119.56,636.90 120.11,649.26 120.67,665.63 121.07,679.40 121.22,684.91 121.78,709.82 122.33,736.00 122.33,736.06 122.89,761.17 123.45,786.32 123.59,792.70 124.00,813.71 124.41,826.80 124.56,826.55 125.11,822.45 125.67,816.51 126.11,813.20 126.23,812.70 126.78,810.20 127.34,808.27 127.89,806.12 128.45,803.54 129.00,802.93 129.56,800.92 130.12,799.72 130.67,799.21 131.15,799.50 131.23,799.56 131.78,802.30 132.34,809.99 132.90,817.59 133.45,827.19 134.01,834.00 134.52,835.80 134.56,835.80 135.12,835.16 135.67,833.61 136.23,831.17 136.79,829.13 137.34,825.69 137.90,823.22 138.45,822.34 138.70,822.20 139.01,822.38 139.57,823.13 140.12,824.68 140.68,825.68 141.23,829.17 141.79,830.87 142.34,832.99 142.89,835.80 142.90,835.85 143.46,838.57 144.01,841.32 144.57,843.85 145.12,848.69 145.68,850.23 146.24,851.64 146.26,851.70 146.79,852.87 147.35,852.93 147.90,854.48 148.46,854.78 149.01,856.29 149.57,857.00 150.13,856.31 150.44,858.50 150.68,859.57 151.24,864.92 151.79,870.71 152.35,876.46 152.91,878.87 152.96,878.90 153.46,879.22 154.02,875.79 154.57,874.30 155.13,872.13 155.48,872.10 155.69,872.51 156.24,877.82 156.80,883.11 157.19,888.00 157.35,889.80 157.91,896.78 158.46,904.89 159.02,911.34 159.58,915.06 159.70,915.20 160.13,914.80 160.69,914.21 161.24,913.05 161.80,911.89 162.36,910.25 162.91,909.32 163.47,907.50 164.02,906.62 164.58,906.16 164.81,906.10 165.13,905.84 165.69,908.97 166.25,911.92 166.80,916.95 167.36,922.84 167.91,928.19 168.47,932.60 169.03,935.55 169.58,938.96 169.89,939.10 170.14,938.84 170.69,936.92 171.25,932.01 171.80,926.37 172.36,920.92 172.92,914.68 173.47,909.35 174.03,904.12 174.58,903.30 174.89,902.00 175.14,902.01 175.70,902.39 176.25,902.06 176.81,902.64 177.36,902.80 177.37,902.80 177.92,906.68 178.47,913.79 179.03,920.84 179.26,922.20 179.59,922.76 180.14,924.54 180.70,925.68 181.25,926.09 181.81,926.49 182.37,928.04 182.92,928.82 183.00,929.00 183.48,930.42 184.03,931.91 184.59,935.16 185.14,937.82 185.70,940.93 186.26,942.36 186.81,944.32 187.37,945.87 187.70,945.90 187.92,943.70 188.48,923.96 189.04,899.43 189.26,891.90 189.59,883.24 190.15,869.51 190.70,859.07 191.15,849.70 191.26,847.45 191.81,836.43 192.37,826.35 192.93,833.21 193.48,842.16 193.63,844.60 194.04,852.25 194.59,864.74 195.15,877.37 195.52,883.40 195.70,885.78 196.26,892.80 196.82,898.52 197.37,900.30 197.37,900.30 197.93,899.79 198.48,900.21 199.04,900.32 199.59,898.90 199.89,898.60 200.15,898.29 200.71,897.15 201.26,895.83 201.82,894.81 202.37,892.95 202.93,892.04 203.49,889.45 204.04,887.55 204.26,886.80 204.60,885.48 205.15,884.30 205.71,881.06 206.26,878.60 206.82,876.26 207.38,873.62 207.93,869.99 208.49,867.47 208.63,866.60 209.04,864.24 209.60,858.15 210.15,851.91 210.71,846.08 211.27,841.77 211.74,839.60 211.82,839.36 212.38,837.53 212.93,836.90 213.49,835.97 214.04,835.99 214.60,835.30 215.16,833.70 215.52,832.80 215.71,832.17 216.27,829.65 216.82,825.46 217.38,821.45 217.93,817.96 218.49,812.80 219.05,812.16 219.26,812.00 219.60,812.33 220.16,811.59 220.71,812.40 221.27,813.31 221.82,814.23 222.38,814.82 222.94,815.78 223.00,815.90 223.49,818.07 224.05,821.14 224.60,824.96 225.16,831.47 225.52,834.50 225.71,836.59 226.27,844.08 226.83,852.76 227.37,858.10 227.38,858.18 227.94,861.34 228.49,864.59 229.05,867.02 229.60,868.70 229.89,869.90 230.16,871.06 230.72,873.92 231.27,875.85 231.83,877.02 232.38,880.02 232.94,882.42 233.49,884.48 233.63,885.10 234.05,887.02 234.61,891.30 235.16,893.34 235.72,896.35 236.15,898.60 236.27,898.97 236.83,900.27 237.38,902.42 237.94,903.63 238.50,905.58 239.05,905.84 239.61,907.09 240.16,906.57 240.52,907.10 240.72,907.07 241.27,907.28 241.83,906.28 242.39,904.60 242.94,904.08 243.50,902.73 244.05,900.80 244.61,899.35 244.89,898.60 245.16,897.67 245.72,895.19 246.28,892.84 246.74,891.90 246.83,891.92 247.39,892.11 247.94,893.93 248.50,895.16 248.63,895.20 249.06,893.97 249.61,893.39 250.17,891.04 250.72,887.72 251.15,885.10 251.28,884.28 251.83,878.11 252.39,873.26 252.95,866.07 253.50,862.15 253.63,861.50 254.06,860.35 254.61,858.48 255.17,856.24 255.72,855.80 256.28,854.21 256.74,853.10 256.84,852.87 257.39,851.27 257.95,850.08 258.50,848.43 259.06,846.91 259.61,846.39 259.89,846.30 260.17,846.35 260.73,846.97 261.28,848.24 261.84,848.26 262.37,849.70 262.39,849.76 262.95,853.28 263.50,858.55 264.06,862.82 264.26,863.20 264.62,862.63 265.17,862.52 265.73,862.63 266.28,862.32 266.84,862.89 267.39,862.65 267.95,861.54 268.00,861.50 268.51,860.43 269.06,858.89 269.62,856.90 270.17,854.75 270.73,851.29 271.28,848.02 271.74,846.30 271.84,845.94 272.40,843.57 272.95,841.97 273.51,840.35 274.06,838.53 274.07,838.50 274.62,837.78 275.17,836.84 275.73,834.84 276.29,834.12 276.84,831.20 276.93,830.80 277.40,826.18 277.95,816.00 278.51,804.19 279.06,794.34 279.07,794.20 279.62,787.13 280.18,779.76 280.73,773.78 281.22,768.00 281.29,767.20 281.84,760.18 282.40,752.45 282.95,745.96 283.37,742.20 283.51,741.26 284.07,737.95 284.62,735.77 285.18,733.75 285.73,731.17 286.22,728.70 286.29,728.36 286.84,725.94 287.40,723.05 287.96,719.29 288.37,717.10 288.51,716.32 289.07,713.12 289.62,710.19 290.18,706.52 290.73,703.66 291.22,701.70 291.29,701.48 291.85,698.67 292.40,698.18 292.96,696.57 293.51,694.63 294.07,695.53 294.63,694.02 294.78,694.00 295.18,693.56 295.74,695.32 296.29,695.14 296.85,696.70 297.40,696.85 297.63,696.90 297.96,696.21 298.52,696.33 299.07,697.07 299.63,695.01 300.18,694.53 300.74,694.03 301.29,693.57 301.85,692.15 301.93,692.00 302.41,689.90 302.96,687.95 303.52,684.31 304.07,680.09 304.63,678.86 304.78,678.60 305.18,677.80 305.74,677.85 306.30,678.26 306.85,676.54 307.41,676.85 307.63,676.60 307.96,675.70 308.52,673.96 309.07,672.10 309.63,674.51 310.19,676.36 310.74,680.17 311.19,682.40 311.30,683.06 311.85,687.27 312.41,690.98 312.96,695.87 313.52,699.28 314.04,703.60 314.07,703.86 314.63,707.92 315.19,710.68 315.74,713.07 316.30,717.43 316.85,722.16 316.93,722.90 317.41,730.61 317.96,742.25 318.33,747.90 318.52,749.35 319.07,752.97 319.63,754.83 320.19,757.22 320.48,759.50 320.74,762.96 321.30,775.06 321.85,789.49 321.89,790.30 322.41,803.97 322.96,816.98 323.33,823.10 323.52,824.92 324.08,830.36 324.63,832.98 325.19,835.47 325.48,836.60 325.74,837.53 326.30,839.74 326.85,841.56 327.41,842.71 327.96,843.11 328.52,844.42 329.08,845.76 329.63,847.19 330.19,847.92 330.48,848.20 330.74,848.42 331.30,849.34 331.85,849.13 332.41,849.26 332.97,850.30 333.52,849.59 334.04,850.10 334.08,850.09 334.63,848.01 335.19,844.92 335.48,844.30 335.74,844.35 336.30,844.02 336.85,844.72 337.41,846.22 337.97,847.37 338.52,849.60 339.08,850.54 339.63,851.74 339.74,852.00 340.19,853.42 340.74,855.41 341.30,856.28 341.85,858.26 342.41,860.70 342.59,861.70 342.97,865.23 343.52,874.08 344.08,885.18 344.63,893.47 344.74,894.40 345.19,897.58 345.74,900.37 346.30,904.06 346.86,906.65 347.41,907.63 347.59,907.90 347.97,908.65 348.52,908.89 349.08,909.78 349.63,909.58 350.19,909.62 350.44,909.90 350.74,910.07 351.30,912.85 351.86,915.53 352.41,920.66 352.97,923.93 353.33,925.30 353.52,926.47 354.08,931.18 354.63,933.56 355.19,938.37 355.74,942.70 356.19,944.50 356.30,945.01 356.86,947.33 357.41,950.29 357.97,952.34 358.52,954.54 359.08,956.34 359.63,957.29 360.19,957.92 360.44,958.00 360.75,957.10 361.30,955.88 361.86,954.38 362.41,953.33 362.97,953.02 363.30,952.30 363.52,952.37 364.08,952.46 364.63,953.82 365.19,955.18 365.75,956.35 366.30,956.88 366.86,958.00 366.89,958.00 367.41,956.83 367.97,957.54 368.52,956.21 369.08,956.87 369.64,956.21 369.74,956.10 370.19,955.31 370.75,954.35 371.30,951.23 371.86,949.46 372.41,946.94 372.97,945.90 373.19,945.80 373.52,945.73 374.08,945.89 374.64,948.05 375.19,948.89 375.75,949.35 376.30,950.00 376.33,950.00 376.86,949.75 377.41,947.27 377.97,945.49 378.52,941.61 379.08,939.56 379.64,935.60 380.19,933.12 380.75,929.50 381.30,928.01 381.81,927.70 381.86,927.71 382.41,928.30 382.97,931.99 383.53,935.25 384.08,939.32 384.64,942.15 385.19,945.12 385.74,945.80 385.75,945.80 386.30,944.95 386.86,945.52 387.41,945.53 387.97,945.49 388.53,944.03 389.08,944.80 389.64,945.53 390.19,945.94 390.75,945.51 391.26,945.80 391.30,945.81 391.86,947.62 392.41,947.84 392.97,951.45 393.53,953.46 394.08,954.18 394.41,954.30 394.64,954.08 395.19,951.53 395.75,948.95 396.30,945.17 396.86,942.36 397.42,940.54 397.52,940.50 397.97,940.55 398.53,942.14 399.08,942.63 399.64,944.39 400.19,946.61 400.75,948.66 401.30,951.40 401.48,952.10 401.86,954.68 402.42,957.92 402.97,961.99 403.53,964.49 403.81,964.90 404.08,964.90 404.64,965.03 405.19,964.35 405.75,965.19 406.31,964.03 406.86,964.81 407.42,964.58 407.74,964.90 407.97,964.82 408.53,964.49 409.08,962.88 409.64,961.45 410.19,959.15 410.75,956.92 411.31,956.41 411.67,956.40 411.86,956.41 412.42,957.14 412.97,956.97 413.53,956.90 414.08,957.51 414.64,958.39 415.19,958.23 415.75,959.75 416.31,960.46 416.41,960.60 416.86,961.43 417.42,963.70 417.97,965.20 418.53,966.88 418.74,967.00 419.08,967.04 419.64,967.42 420.20,965.53 420.75,964.44 421.31,965.04 421.86,964.33 422.42,962.87 422.97,962.09 423.48,962.70 423.53,962.71 424.08,963.28 424.64,964.18 425.20,967.69 425.75,969.68 426.31,973.60 426.86,977.17 427.42,978.34 427.97,979.60 428.19,979.70 428.53,979.16 429.08,978.46 429.64,979.04 430.20,977.57 430.75,977.32 431.31,974.72 431.86,973.95 432.42,972.87 432.97,972.39 433.53,971.58 434.09,969.53 434.64,968.74 435.20,969.10 435.26,969.10 435.75,969.45 436.31,970.41 436.86,972.34 437.42,972.70 437.97,974.28 438.41,975.50 438.53,975.50 439.09,975.55 439.64,974.97 440.20,975.77 440.75,976.36 441.31,974.86 441.86,975.48 442.42,975.26 442.98,975.65 443.53,975.48 444.09,975.40 444.64,975.03 445.20,975.50 445.48,975.50 445.75,975.58 446.31,976.14 446.86,977.57 447.42,978.32 447.98,979.95 448.53,982.10 449.09,982.69 449.64,983.53 450.19,984.00 450.20,984.00 450.75,983.25 451.31,981.37 451.86,977.96 452.42,975.82 452.98,973.39 453.53,970.71 454.09,969.13 454.11,969.10 454.64,968.06 455.20,967.87 455.75,967.61 456.31,966.62 456.87,967.69 457.26,967.00 457.42,967.05 457.98,968.23 458.53,970.27 459.09,972.33 459.64,973.22 460.20,975.93 460.75,976.16 461.19,977.60 461.31,977.55 461.87,976.77 462.42,974.49 462.98,970.48 463.53,967.49 464.09,964.41 464.64,962.94 465.11,961.70 465.20,961.71 465.75,964.28 466.31,963.89 466.87,965.74 467.42,968.49 467.98,970.78 468.53,972.53 469.04,973.40 469.09,973.48 469.64,974.37 470.20,975.95 470.76,976.65 471.31,975.98 471.87,976.65 472.42,976.97 472.96,977.60 472.98,977.60 473.53,976.86 474.09,974.12 474.64,971.61 475.20,968.47 475.76,963.38 476.31,960.56 476.87,958.15 477.42,956.57 477.67,956.40 477.98,957.35 478.53,957.55 479.09,958.05 479.65,958.11 480.20,960.47 480.76,960.25 481.31,960.23 481.63,960.60 481.87,960.56 482.42,961.21 482.98,959.55 483.53,958.62 484.09,956.64 484.65,957.33 485.20,955.96 485.56,956.40 485.76,956.48 486.31,956.90 486.87,959.23 487.42,961.04 487.98,961.01 488.53,962.67 488.67,962.70 489.09,962.36 489.65,961.73 490.20,959.03 490.76,959.02 491.31,956.72 491.85,956.40 491.87,956.40 492.42,957.09 492.98,956.77 493.54,958.57 494.09,959.20 494.65,961.88 495.20,962.70 495.76,963.58 496.31,964.66 496.56,964.90 496.87,964.95 497.42,966.50 497.98,965.93 498.54,967.03 499.09,966.74 499.65,966.51 500.20,966.98 500.48,967.00 500.76,966.98 501.31,966.42 501.87,966.20 502.42,965.53 502.98,965.95 503.54,965.69 504.09,965.47 504.41,964.90 504.65,964.75 505.20,964.38 505.76,963.31 506.31,963.69 506.87,963.61 507.43,962.97 507.98,962.48 508.33,961.70 508.54,961.39 509.09,960.02 509.65,957.16 510.20,955.71 510.76,954.14 511.31,951.82 511.87,950.95 512.26,950.00 512.43,949.83 512.98,950.32 513.54,948.56 514.09,949.24 514.65,948.23 515.20,948.08 515.41,947.90 515.76,947.18 516.32,947.06 516.87,945.01 517.43,944.50 517.98,942.98 518.52,942.50 518.54,942.47 519.09,941.13 519.65,941.36 520.20,939.80 520.76,939.32 521.32,939.60 521.87,938.88 522.43,937.80 522.81,936.70 522.98,936.28 523.54,933.57 524.09,931.22 524.65,929.31 524.81,928.80 525.20,927.84 525.76,926.68 526.32,925.11 526.87,923.18 527.43,921.82 527.98,921.04 528.52,921.30 528.54,921.30 529.09,921.87 529.65,922.12 530.21,923.17 530.76,924.21 531.32,925.31 531.87,925.18 532.43,926.93 532.81,927.10 532.98,927.02 533.54,925.88 534.09,923.74 534.65,920.00 535.21,916.65 535.76,911.14 536.32,908.34 536.87,906.92 537.43,903.68 537.81,903.90 537.98,903.95 538.54,904.33 539.09,906.78 539.65,907.91 540.21,910.18 540.76,913.03 541.32,915.23 541.87,917.94 542.43,918.97 542.81,919.40 542.98,919.14 543.54,916.62 544.10,908.71 544.65,901.55 545.21,896.27 545.67,894.30 545.76,894.30 546.32,894.42 546.87,895.03 547.43,895.17 547.98,895.61 548.54,895.17 549.10,895.36 549.65,896.99 550.21,896.03 550.67,896.20 550.76,896.20 551.32,896.78 551.87,895.12 552.43,895.15 552.99,894.65 553.54,894.10 554.10,892.35 554.65,892.77 554.96,892.40 555.21,891.98 555.76,890.78 556.32,888.83 556.87,885.66 557.43,884.42 557.99,881.37 558.54,879.47 559.10,879.03 559.22,878.90 559.65,878.67 560.21,878.71 560.76,877.03 561.32,877.64 561.87,878.19 562.43,877.64 562.99,877.52 563.52,876.90 563.54,876.88 564.10,875.35 564.65,875.02 565.21,874.00 565.76,872.37 566.32,869.59 566.88,867.57 567.43,864.60 567.81,863.40 567.99,862.71 568.54,860.07 569.10,856.98 569.65,853.17 570.21,850.93 570.76,848.54 571.32,846.24 571.37,846.10 571.88,845.62 572.43,843.68 572.99,842.35 573.54,840.94 574.10,840.31 574.65,839.67 575.21,839.71 575.67,838.40 575.76,838.27 576.32,837.15 576.88,836.89 577.43,836.97 577.99,835.90 578.54,835.01 579.10,834.69 579.22,834.50 579.65,832.92 580.21,832.56 580.77,831.34 581.32,829.71 581.88,828.60 582.43,826.05 582.81,824.90 582.99,824.08 583.54,820.42 584.10,815.28 584.65,812.77 584.96,811.40 585.21,811.44 585.77,811.36 586.32,812.35 586.88,813.45 587.43,815.23 587.99,815.58 588.54,815.78 589.10,817.30 589.66,816.93 589.96,817.10 590.21,816.51 590.77,812.15 591.32,806.65 591.88,802.08 592.07,801.70 592.43,802.06 592.99,802.07 593.54,802.22 594.10,802.25 594.66,803.45 595.21,803.43 595.67,803.60 595.77,803.65 596.32,803.93 596.88,803.70 597.43,804.55 597.99,805.18 598.54,805.11 599.10,805.72 599.66,805.62 600.21,806.25 600.67,805.60 600.77,805.57 601.32,804.52 601.88,801.56 602.43,797.67 602.99,794.75 603.55,791.17 604.10,788.56 604.22,788.20 604.66,787.14 605.21,785.73 605.77,785.13 606.32,782.67 606.88,781.97 607.43,781.36 607.99,779.81 608.52,780.50 608.55,780.50 609.10,779.75 609.66,781.25 610.21,780.96 610.77,781.44 611.32,781.19 611.88,782.38 612.07,782.40 612.43,781.51 612.99,781.57 613.55,779.95 614.10,779.01 614.66,775.92 615.21,775.15 615.77,773.76 616.32,772.80 616.37,772.80 616.88,773.55 617.44,772.12 617.99,772.56 618.55,773.24 619.10,773.36 619.66,772.38 620.21,772.78 620.67,772.80 620.77,772.85 621.32,775.99 621.88,777.53 622.44,783.19 622.99,784.97 623.52,788.20 623.55,788.23 624.10,789.74 624.66,789.14 625.21,788.94 625.77,789.35 626.33,790.05 626.37,790.10 626.88,790.96 627.44,793.10 627.99,795.71 628.55,797.59 629.10,798.78 629.66,800.27 629.96,801.70 630.21,802.10 630.77,802.81 631.33,803.47 631.88,804.66 632.44,804.60 632.99,805.37 633.55,806.75 634.10,806.78 634.66,807.03 635.21,807.61 635.67,807.50 635.77,807.48 636.33,806.40 636.88,805.20 637.44,802.76 637.99,799.95 638.55,798.65 639.10,797.93 639.22,797.90 639.66,798.11 640.22,801.66 640.77,805.40 641.33,810.36 641.88,814.11 642.44,817.25 642.81,817.10 642.99,817.04 643.55,815.98 644.10,815.00 644.66,813.23 645.22,812.51 645.77,810.82 646.33,809.40 646.37,809.40 646.88,809.05 647.44,809.82 647.99,812.32 648.52,813.30 648.55,813.38 649.10,816.00 649.66,817.04 650.22,819.72 650.77,823.69 651.33,826.55 651.37,826.80 651.88,830.27 652.44,835.04 652.99,839.70 653.55,844.09 654.11,847.50 654.22,848.00 654.66,850.02 655.22,851.44 655.77,853.85 656.33,855.53 656.88,855.63 657.11,855.70 657.44,856.39 657.99,853.85 658.55,851.75 659.11,848.95 659.66,846.78 659.96,846.10 660.22,846.22 660.77,846.63 661.33,848.96 661.88,850.56 662.44,851.45 662.81,851.90 663.00,851.95 663.55,852.64 664.11,852.20 664.56,852.20 664.66,852.16 665.22,850.70 665.77,848.96 666.33,842.74 666.88,838.85 667.44,834.49 668.00,829.73 668.55,825.64 669.07,823.70 669.11,823.62 669.66,821.73 670.22,821.67 670.77,819.86 671.33,818.71 671.88,819.72 672.44,819.03 673.00,818.31 673.55,816.87 674.11,816.08 674.37,815.50 674.66,814.62 675.22,812.55 675.77,809.64 676.33,805.78 676.89,805.38 677.04,805.30 677.44,807.20 678.00,811.86 678.55,817.81 679.11,823.16 679.66,825.70 679.67,825.70 680.22,825.82 680.77,825.55 681.33,826.54 681.89,825.70 681.93,825.70 682.44,825.05 683.00,824.75 683.55,823.21 684.11,820.84 684.66,817.91 685.22,813.85 685.77,812.43 686.33,808.42 686.89,804.93 687.44,801.97 688.00,799.21 688.00,799.20 688.55,796.79 689.11,793.86 689.66,790.12 690.22,788.70 690.78,786.21 691.33,783.40 691.78,780.80 691.89,780.20 692.44,777.20 693.00,772.36 693.55,769.00 694.11,763.04 694.66,759.54 695.22,756.60 695.78,753.77 696.30,754.30 696.33,754.30 696.89,756.13 697.44,758.40 698.00,763.00 698.55,766.28 699.11,769.46 699.67,772.22 700.07,772.70 700.22,772.56 700.78,769.03 701.33,764.82 701.89,757.07 702.44,750.30 703.00,743.17 703.11,742.00 703.55,737.73 704.11,732.92 704.67,726.50 705.22,721.29 705.37,719.60 705.78,713.22 706.33,704.53 706.89,699.20 706.89,699.20 707.44,700.36 708.00,699.58 708.55,698.94 709.11,698.99 709.67,699.49 710.22,699.34 710.67,699.20 710.78,699.14 711.33,697.81 711.89,695.77 712.44,690.65 712.93,691.00 713.00,691.00 713.56,691.40 714.11,691.51 714.67,691.28 715.22,691.07 715.78,691.41 716.33,691.95 716.89,694.58 717.44,695.40 718.00,695.34 718.56,696.09 719.12,696.56 719.67,698.75 720.23,700.31 720.48,701.20 720.79,703.08 721.34,713.91 721.90,721.04 722.00,721.60 722.46,722.44 723.01,723.71 723.57,724.95 724.13,725.19 724.69,726.03 725.04,727.80 725.24,728.65 725.80,731.93 726.36,737.44 726.91,742.62 727.30,746.10 727.47,747.68 728.03,753.91 728.58,758.86 729.14,765.19 729.70,770.65 730.26,774.50 730.30,774.70 730.81,775.92 731.37,779.20 731.93,779.45 732.48,780.98 733.04,782.55 733.60,784.60 734.07,786.90 734.15,787.45 734.71,794.85 735.27,804.06 735.59,807.30 735.83,808.98 736.38,811.40 736.94,814.55 737.50,817.04 737.85,819.60 738.05,821.77 738.61,832.41 739.17,844.06 739.73,855.49 740.15,860.40 740.28,861.40 740.84,864.71 741.40,866.91 741.95,870.08 742.51,871.20 743.07,874.30 743.15,874.70 743.62,876.69 744.18,880.25 744.74,883.40 745.30,886.27 745.44,886.90 745.85,889.02 746.41,890.99 746.97,892.36 747.52,894.28 748.08,895.74 748.64,898.26 749.19,900.14 749.75,900.74 749.96,901.20 750.31,901.99 750.87,903.20 751.42,902.33 751.98,904.53 752.54,906.33 753.09,906.52 753.65,907.12 753.74,907.30 754.21,908.77 754.76,908.94 755.32,910.28 755.88,912.45 756.44,913.79 756.78,915.50 756.99,916.77 757.55,922.85 758.11,929.82 758.66,934.75 759.04,936.00 759.22,935.94 759.78,934.64 760.33,933.31 760.89,931.46 761.45,930.03 762.01,928.26 762.56,927.90 762.81,927.80 763.12,927.08 763.68,927.02 764.23,928.41 764.79,927.77 765.35,927.69 765.90,927.81 766.46,927.76 767.02,928.18 767.58,928.08 768.11,927.80 768.13,927.80 768.69,927.36 769.25,927.55 769.80,929.28 770.36,928.61 770.92,929.61 771.11,929.80 771.48,929.83 772.03,931.26 772.59,931.76 773.15,933.79 773.70,935.20 774.26,937.27 774.82,939.45 775.37,941.59 775.93,942.68 776.49,943.26 777.05,945.65 777.19,946.10 777.60,948.56 778.16,950.05 778.72,952.72 779.27,954.56 779.83,957.49 780.39,960.02 780.94,961.72 781.50,964.35 782.06,966.12 782.48,966.50 782.62,966.74 783.17,968.47 783.73,968.48 784.29,969.15 784.84,969.63 785.40,970.06 785.96,971.00 786.51,971.25 787.07,971.85 787.63,972.58 787.74,972.70 788.19,972.74 788.74,974.07 789.30,974.04 789.86,975.06 790.41,976.94 790.97,977.37 791.53,977.09 792.08,978.28 792.64,978.08 793.20,979.50 793.76,978.80 793.81,978.80 794.31,979.29 794.87,977.54 795.43,977.68 795.98,975.52 796.54,974.94 797.10,973.67 797.65,973.03 798.21,972.71 798.33,972.70 798.77,972.19 799.33,973.13 799.88,973.06 800.44,973.34 801.00,973.39 801.55,972.03 802.11,972.70" fill="none" stroke="#e31c24" stroke-width="2.3" stroke-linejoin="miter" stroke-miterlimit="30" stroke-linecap="butt"/>
<path transform="scale(1.0,1)" d="M159.00,988.0 161.70,984.5 164.40,989.5 167.10,987.8 169.80,981.9 172.50,979.8 175.20,982.5 177.90,981.0 180.60,979.9 183.30,978.9 186.00,974.6 188.70,977.8 191.40,971.1 194.10,973.1 196.80,972.0 199.50,968.2 202.20,972.6 204.90,977.7 207.60,974.4 210.30,973.7 213.00,977.3 215.70,980.5 218.40,974.8 221.10,969.8 223.80,963.7 226.50,966.8 229.20,967.0 231.90,971.3 234.60,974.0 237.30,974.6 240.00,970.2 242.70,970.2 245.40,970.3 248.10,969.9 250.80,964.0 253.50,965.2 256.20,959.4 258.90,951.4 261.60,943.3 264.30,935.8 267.00,930.5 269.70,937.5 272.40,933.8 275.10,937.1 277.80,939.0 280.50,943.5 283.20,951.2 285.90,947.8 288.60,944.5 291.30,936.9 294.00,930.6 296.70,923.0 299.40,909.3 302.10,898.8 304.80,883.9 307.50,859.3 310.20,828.5 312.90,769.2 315.60,698.0 318.30,654.3 321.00,637.7 323.70,647.2 326.40,677.1 329.10,716.2 331.80,761.6 334.50,803.9 337.20,822.4 339.90,814.3 342.60,810.5 345.30,807.1 348.00,806.5 350.70,805.8 353.40,798.1 356.10,810.6 358.80,817.4 361.50,828.2 364.20,829.9 366.90,826.0 369.60,829.7 372.30,822.4 375.00,824.6 377.70,826.2 380.40,829.9 383.10,835.5 385.80,835.6 388.50,833.3 391.20,841.4 393.90,852.1 396.60,857.1 399.30,854.1 402.00,854.4 404.70,854.5 407.40,863.3 410.10,866.2 412.80,875.6 415.50,876.7 418.20,873.9 420.90,875.3 423.60,887.6 426.30,892.9 429.00,903.8 431.70,913.9 434.40,913.2 437.10,910.6 439.80,913.9 442.50,906.4 445.20,908.0 447.90,911.8 450.60,920.3 453.30,925.1 456.00,931.7 458.70,942.7 461.40,930.9 464.10,928.0 466.80,915.2 469.50,908.4 472.20,904.4 474.90,896.9 477.60,899.0 480.30,908.2 483.00,919.4 485.70,924.6 488.40,924.4 491.10,923.8 493.80,930.6 496.50,933.2 499.20,933.3 501.90,939.6 504.60,947.0 507.30,939.7 510.00,902.1 512.70,876.9 515.40,854.7 518.10,836.3 520.80,835.9 523.50,847.8 526.20,869.0 528.90,889.0 531.60,897.6 534.30,903.0 537.00,896.0 539.70,896.5 542.40,898.1 545.10,891.1 547.80,891.2 550.50,887.7 553.20,882.2 555.90,882.5 558.60,874.6 561.30,868.9 564.00,864.0 566.70,856.2 569.40,843.5 572.10,837.4 574.80,834.7 577.50,831.0 580.20,836.1 582.90,833.9 585.60,827.8 588.30,815.6 591.00,814.9 593.70,814.2 596.40,812.4 599.10,816.6 601.80,813.3 604.50,820.1 607.20,828.0 609.90,837.6 612.60,849.7 615.30,862.7 618.00,862.8 620.70,868.9 623.40,872.5 626.10,882.9 628.80,880.1 631.50,887.5 634.20,895.9 636.90,894.6 639.60,898.2 642.30,901.2 645.00,901.0 647.70,908.6 650.40,905.3 653.10,906.8 655.80,903.7 658.50,900.6 661.20,900.7 663.90,894.3 666.60,894.5 669.30,891.0 672.00,892.5 674.70,892.8 677.40,881.5 680.10,879.1 682.80,867.6 685.50,859.6 688.20,856.5 690.90,858.2 693.60,849.4 696.30,852.5 699.00,849.5 701.70,845.4 704.40,847.5 707.10,850.6 709.80,852.1 712.50,857.2 715.20,863.5 717.90,860.6 720.60,861.1 723.30,861.7 726.00,859.5 728.70,857.8 731.40,850.5 734.10,846.1 736.80,844.3 739.50,839.7 742.20,832.6 744.90,832.3 747.60,828.2 750.30,815.9 753.00,800.2 755.70,785.0 758.40,769.8 761.10,761.8 763.80,745.9 766.50,740.3 769.20,732.4 771.90,727.2 774.60,722.0 777.30,719.7 780.00,712.8 782.70,709.9 785.40,700.6 788.10,701.3 790.80,696.7 793.50,698.7 796.20,696.4 798.90,694.7 801.60,696.4 804.30,697.1 807.00,696.5 809.70,693.7 812.40,695.6 815.10,690.9 817.80,683.2 820.50,683.3 823.20,678.3 825.90,679.7 828.60,678.4 831.30,676.1 834.00,672.9 836.70,676.4 839.40,679.5 842.10,685.0 844.80,693.3 847.50,702.3 850.20,704.3 852.90,715.0 855.60,720.5 858.30,739.8 861.00,749.1 863.70,756.4 866.40,767.9 869.10,793.2 871.80,812.3 874.50,826.1 877.20,832.9 879.90,833.5 882.60,837.5 885.30,845.3 888.00,845.6 890.70,847.0 893.40,850.8 896.10,848.6 898.80,848.9 901.50,849.4 904.20,842.8 906.90,847.1 909.60,846.4 912.30,848.4 915.00,849.7 917.70,851.1 920.40,850.9 923.10,859.6 925.80,871.0 928.50,883.6 931.20,894.5 933.90,897.8 936.60,904.6 939.30,908.9 942.00,908.5 944.70,911.3 947.40,910.2 950.10,919.9 952.80,923.3 955.50,927.8 958.20,935.1 960.90,943.3 963.60,948.4 966.30,950.1 969.00,954.3 971.70,961.5 974.40,953.5 977.10,950.7 979.80,953.3 982.50,951.1 985.20,955.1 987.90,952.9 990.60,958.3 993.30,960.2 996.00,959.1 998.70,953.2 1001.40,952.0 1004.10,951.6 1006.80,950.7 1009.50,944.6 1012.20,946.2 1014.90,952.0 1017.60,946.8 1020.30,940.8 1023.00,942.3 1025.70,931.8 1028.40,930.0 1031.10,930.2 1033.80,931.3 1036.50,938.9 1039.20,939.2 1041.90,947.5 1044.60,946.8 1047.30,949.4 1050.00,945.3 1052.70,945.0 1055.40,945.6 1058.10,949.8 1060.80,948.6 1063.50,952.6 1066.20,956.5 1068.90,949.4 1071.60,944.9 1074.30,940.4 1077.00,946.4 1079.70,944.9 1082.40,947.1 1085.10,952.3 1087.80,962.9 1090.50,965.3 1093.20,962.8 1095.90,964.1 1098.60,965.9 1101.30,967.2 1104.00,958.8 1106.70,963.2 1109.40,960.1 1112.10,955.1 1114.80,956.6 1117.50,959.4 1120.20,958.6 1122.90,960.4 1125.60,959.6 1128.30,960.7 1131.00,972.2 1133.70,966.3 1136.40,965.5 1139.10,965.3 1141.80,966.2 1144.50,966.2 1147.20,965.5 1149.90,971.2 1152.60,975.2 1155.30,980.3 1158.00,977.3 1160.70,978.0 1163.40,976.1 1166.10,977.2 1168.80,966.9 1171.50,971.3 1174.20,970.4 1176.90,971.9 1179.60,972.4 1182.30,972.6 1185.00,977.0 1187.70,976.3 1190.40,973.6 1193.10,972.2 1195.80,977.3 1198.50,972.0 1201.20,978.1 1203.90,981.4 1206.60,978.5 1209.30,980.4 1212.00,981.9 1214.70,986.5 1217.40,984.4 1220.10,977.7 1222.80,975.4 1225.50,970.0 1228.20,967.5 1230.90,969.6 1233.60,967.1 1236.30,966.8 1239.00,968.1 1241.70,976.3 1244.40,974.7 1247.10,972.3 1249.80,970.1 1252.50,968.3 1255.20,958.8 1257.90,965.4 1260.60,968.1 1263.30,965.9 1266.00,968.5 1268.70,973.6 1271.40,983.4 1274.10,975.5 1276.80,981.1 1279.50,975.9 1282.20,965.4 1284.90,964.4 1287.60,962.1 1290.30,955.5 1293.00,960.4 1295.70,956.1 1298.40,955.0 1301.10,958.9 1303.80,961.0 1306.50,957.3 1309.20,959.1 1311.90,953.7 1314.60,957.8 1317.30,964.1 1320.00,956.9 1322.70,961.0 1325.40,956.4 1328.10,954.8 1330.80,957.6 1333.50,956.9 1336.20,963.9 1338.90,965.0 1341.60,967.8 1344.30,966.0 1347.00,964.1 1349.70,968.1 1352.40,963.8 1355.10,964.2 1357.80,970.3 1360.50,967.6 1363.20,965.5 1365.90,967.0 1368.60,962.3 1371.30,963.4 1374.00,958.3 1376.70,956.3 1379.40,954.3 1382.10,954.4 1384.80,947.9 1387.50,952.3 1390.20,948.2 1392.90,941.7 1395.60,940.9 1398.30,942.1 1401.00,944.4 1403.70,941.2 1406.40,943.3 1409.10,938.4 1411.80,939.6 1414.50,933.0 1417.20,926.7 1419.90,928.2 1422.60,923.0 1425.30,919.5 1428.00,920.2 1430.70,922.3 1433.40,925.1 1436.10,927.8 1438.80,928.1 1441.50,926.8 1444.20,913.2 1446.90,912.5 1449.60,914.2 1452.30,903.3 1455.00,903.8 1457.70,908.4 1460.40,911.2 1463.10,915.5 1465.80,922.6 1468.50,906.9 1471.20,899.7 1473.90,897.6 1476.60,895.5 1479.30,895.9 1482.00,894.7 1484.70,898.0 1487.40,893.8 1490.10,897.3 1492.80,894.6 1495.50,893.0 1498.20,891.1 1500.90,892.2 1503.60,887.2 1506.30,882.3 1509.00,880.3 1511.70,876.3 1514.40,881.0 1517.10,880.8 1519.80,879.8 1522.50,876.4 1525.20,873.8 1527.90,866.5 1530.60,865.6 1533.30,862.6 1536.00,858.0 1538.70,854.8 1541.40,847.5 1544.10,843.6 1546.80,846.1 1549.50,841.0 1552.20,838.4 1554.90,833.8 1557.60,834.1 1560.30,835.5 1563.00,835.5 1565.70,828.8 1568.40,830.1 1571.10,828.2 1573.80,823.4 1576.50,818.3 1579.20,815.0 1581.90,810.9 1584.60,809.9 1587.30,813.9 1590.00,813.3 1592.70,816.9 1595.40,813.1 1598.10,806.8 1600.80,803.5 1603.50,808.4 1606.20,804.6 1608.90,807.0 1611.60,805.1 1614.30,805.1 1617.00,803.8 1619.70,805.3 1622.40,803.3 1625.10,799.0 1627.80,794.9 1630.50,792.4 1633.20,786.5 1635.90,786.6 1638.60,780.7 1641.30,781.0 1644.00,783.5 1646.70,782.0 1649.40,777.8 1652.10,782.3 1654.80,780.1 1657.50,775.8 1660.20,772.3 1662.90,771.8 1665.60,770.5 1668.30,774.6 1671.00,774.6 1673.70,775.0 1676.40,777.8 1679.10,772.8 1681.80,784.2 1684.50,789.2 1687.20,787.7 1689.90,788.4 1692.60,790.0 1695.30,795.4 1698.00,798.1 1700.70,804.2 1703.40,803.5 1706.10,804.2 1708.80,804.7 1711.50,804.0 1714.20,807.0 1716.90,808.7 1719.60,805.3 1722.30,799.2 1725.00,795.5 1727.70,803.0 1730.40,807.3 1733.10,812.8 1735.80,815.1 1738.50,816.5 1741.20,814.2 1743.90,809.9 1746.60,811.7 1749.30,810.2 1752.00,814.9 1754.70,815.2 1757.40,823.8 1760.10,837.6 1762.80,840.0 1765.50,849.5 1768.20,851.1 1770.90,853.1 1773.60,855.7 1776.30,852.3 1779.00,851.4 1781.70,844.8 1784.40,848.2 1787.10,857.3 1789.80,853.1 1792.50,851.2 1795.20,852.6 1797.90,844.9 1800.60,837.0 1803.30,828.9 1806.00,824.6 1808.70,821.6 1811.40,821.1 1814.10,820.3 1816.80,818.6 1819.50,814.3 1822.20,814.8 1824.90,810.7 1827.60,802.8 1830.30,812.7 1833.00,819.6 1835.70,826.6 1838.40,823.4 1841.10,825.1 1843.80,821.0 1846.50,814.5 1849.20,814.0 1851.90,807.8 1854.60,805.0 1857.30,797.5 1860.00,791.8 1862.70,787.5 1865.40,780.4 1868.10,778.5 1870.80,775.2 1873.50,771.7 1876.20,765.2 1878.90,759.7 1881.60,760.2 1884.30,766.9 1887.00,767.5 1889.70,774.0 1892.40,766.0 1895.10,748.7 1897.80,744.7 1900.50,734.5 1903.20,725.4 1905.90,711.6 1908.60,697.7 1911.30,698.2 1914.00,701.0 1916.70,700.3 1919.40,701.8 1922.10,692.0 1924.80,693.8 1927.50,696.3 1930.20,691.0 1932.90,694.2 1935.60,691.4 1938.30,690.1 1941.00,695.1 1943.70,700.2 1946.40,707.2 1949.10,719.2 1951.80,724.9 1954.50,726.3 1957.20,731.8 1959.90,731.5 1962.60,740.8 1965.30,750.4 1968.00,759.8 1970.70,769.7 1973.40,782.0 1976.10,779.0 1978.80,784.5 1981.50,783.1 1984.20,796.2 1986.90,810.8 1989.60,816.6 1992.30,816.6 1995.00,842.8 1997.70,856.8 2000.40,862.2 2003.10,869.8 2005.80,872.0 2008.50,875.3 2011.20,884.4 2013.90,890.2 2016.60,893.9 2019.30,890.8 2022.00,895.6 2024.70,900.5 2027.40,905.1 2030.10,907.3 2032.80,904.7 2035.50,903.5 2038.20,912.5 2040.90,911.5 2043.60,917.7 2046.30,928.0 2049.00,936.1 2051.70,931.8 2054.40,929.1 2057.10,926.3 2059.80,929.5 2062.50,930.4 2065.20,925.4 2067.90,926.5 2070.60,925.6 2073.30,927.4 2076.00,926.3 2078.70,927.0 2081.40,932.5 2084.10,933.9 2086.80,934.6 2089.50,939.8 2092.20,938.5 2094.90,943.6 2097.60,943.0 2100.30,947.0 2103.00,954.8 2105.70,953.6 2108.40,959.3 2111.10,961.4 2113.80,963.9 2116.50,968.0 2119.20,969.3 2121.90,966.8 2124.60,976.5 2127.30,976.2 2130.00,971.5 2132.70,975.6 2135.40,976.0 2138.10,975.2 2140.80,974.6 2143.50,978.5 2146.20,976.6 2148.90,979.4 2151.60,974.8 2154.30,970.5 2157.00,970.9 2159.70,972.4 2162.40,974.7" fill="none" stroke="#e31c24" stroke-width="2.3" stroke-linejoin="round"/>
<path transform="scale(2.7,1)" d="M57.41,1528.40 57.96,1528.13 58.52,1528.17 59.08,1527.13 59.63,1529.21 60.19,1528.83 60.74,1528.03 61.30,1528.49 61.85,1528.15 62.41,1527.63 62.97,1528.27 63.52,1527.64 63.67,1527.60 64.08,1526.73 64.63,1525.79 65.19,1523.31 65.75,1521.22 66.30,1518.49 66.81,1517.40 66.86,1517.32 67.41,1516.67 67.97,1515.32 68.53,1514.49 69.08,1513.85 69.64,1513.26 69.93,1513.20 70.19,1513.21 70.75,1512.43 71.30,1512.46 71.86,1512.68 72.42,1513.98 72.97,1513.77 73.53,1514.41 74.08,1514.04 74.30,1514.10 74.64,1514.38 75.20,1514.47 75.75,1515.37 76.31,1514.74 76.86,1515.37 77.42,1515.70 77.44,1515.70 77.98,1514.80 78.53,1513.25 79.09,1511.62 79.64,1510.36 80.20,1508.00 80.56,1507.30 80.76,1506.93 81.31,1506.50 81.87,1505.49 82.42,1503.36 82.98,1503.33 83.53,1503.15 84.09,1502.01 84.65,1501.55 84.93,1501.40 85.20,1501.29 85.76,1500.95 86.31,1500.56 86.87,1501.15 87.43,1500.63 87.98,1500.56 88.54,1500.53 89.09,1500.82 89.65,1499.87 90.21,1499.52 90.76,1498.91 91.32,1500.52 91.81,1499.70 91.87,1499.66 92.43,1498.73 92.98,1496.68 93.54,1495.35 94.10,1493.31 94.65,1492.25 94.93,1492.10 95.21,1492.15 95.76,1492.67 96.32,1493.31 96.81,1493.80 96.88,1493.91 97.43,1496.83 97.99,1500.46 98.54,1504.56 99.10,1508.31 99.30,1509.00 99.66,1510.02 100.21,1511.80 100.77,1511.88 101.32,1513.70 101.81,1513.20 101.88,1513.20 102.44,1512.45 102.99,1512.00 103.55,1511.10 104.10,1509.69 104.66,1508.40 105.21,1507.42 105.56,1507.30 105.77,1507.07 106.33,1506.45 106.88,1506.39 107.44,1506.29 107.99,1505.76 108.55,1506.15 109.11,1504.20 109.30,1503.90 109.66,1503.90 110.22,1499.90 110.77,1497.17 111.33,1491.45 111.81,1487.10 111.89,1486.31 112.44,1477.77 113.00,1464.43 113.04,1463.40 113.55,1445.58 114.11,1420.16 114.30,1412.80 114.66,1398.48 115.22,1379.14 115.56,1370.60 115.78,1366.41 116.33,1358.42 116.48,1357.10 116.89,1353.96 117.44,1352.25 118.00,1359.00 118.56,1371.37 118.67,1374.00 119.11,1389.38 119.67,1412.30 119.93,1421.20 120.22,1430.21 120.78,1444.23 121.19,1451.60 121.34,1453.43 121.89,1459.46 122.45,1463.08 123.00,1466.52 123.07,1466.80 123.56,1468.30 124.12,1470.23 124.67,1470.52 125.23,1472.69 125.78,1472.89 126.34,1475.21 126.90,1475.36 127.44,1476.90 127.45,1476.92 128.01,1478.81 128.56,1480.01 129.12,1482.20 129.67,1484.54 130.23,1486.52 130.79,1488.98 131.19,1490.40 131.34,1491.02 131.90,1493.37 132.45,1495.22 133.01,1497.88 133.57,1500.29 133.67,1500.60 134.12,1502.23 134.68,1503.05 135.23,1504.20 135.79,1505.89 136.35,1506.86 136.90,1507.85 137.41,1509.00 137.46,1509.14 138.01,1511.20 138.57,1512.92 139.13,1516.39 139.68,1518.49 140.24,1519.20 140.79,1521.48 141.19,1521.70 141.35,1521.67 141.91,1521.63 142.46,1519.77 143.02,1518.67 143.57,1517.79 144.13,1516.21 144.68,1515.80 145.24,1514.37 145.80,1513.20 146.19,1513.20 146.35,1513.21 146.91,1513.54 147.46,1514.15 148.02,1514.06 148.58,1514.27 149.13,1515.36 149.69,1516.42 150.24,1515.77 150.56,1515.70 150.80,1515.66 151.36,1514.36 151.91,1514.96 152.47,1513.76 153.02,1513.96 153.58,1513.21 153.70,1513.20 154.14,1513.76 154.69,1514.23 155.25,1516.29 155.80,1519.55 156.36,1522.61 156.92,1523.67 157.44,1524.20 157.47,1524.20 158.03,1524.36 158.58,1523.68 159.14,1522.94 159.69,1521.51 160.25,1521.82 160.81,1521.25 161.36,1519.47 161.81,1520.00 161.92,1520.01 162.47,1520.12 163.03,1520.16 163.59,1522.47 164.14,1523.57 164.70,1524.15 165.25,1524.56 165.56,1525.90 165.81,1526.25 166.37,1526.82 166.92,1529.32 167.48,1529.75 168.03,1529.83 168.59,1529.62 169.15,1530.09 169.30,1530.10 169.70,1528.16 170.26,1520.66 170.81,1512.26 171.19,1509.00 171.37,1507.66 171.93,1503.97 172.48,1500.96 173.04,1498.80 173.59,1500.44 174.15,1502.68 174.71,1505.16 175.26,1509.05 175.56,1510.70 175.82,1512.46 176.38,1517.39 176.93,1520.98 177.44,1524.20 177.49,1524.33 178.05,1525.23 178.60,1528.11 179.16,1528.69 179.72,1528.65 180.27,1529.45 180.56,1529.50 180.83,1529.24 181.39,1527.72 181.95,1524.40 182.50,1522.91 182.78,1522.30 183.06,1521.96 183.62,1520.86 184.17,1520.39 184.73,1520.61 184.93,1520.30 185.29,1517.87 185.84,1509.54 186.40,1498.68 186.96,1486.64 187.07,1484.60 187.51,1477.47 188.07,1467.06 188.63,1458.68 188.85,1455.70 189.18,1451.11 189.74,1446.33 190.30,1441.30 190.85,1445.25 191.41,1454.67 191.70,1459.60 191.97,1465.52 192.53,1481.88 193.09,1497.06 193.15,1498.10 193.64,1505.43 194.20,1513.10 194.76,1516.42 194.93,1517.40 195.32,1519.49 195.88,1522.30 196.43,1523.98 196.99,1525.58 197.55,1527.61 198.11,1529.21 198.48,1529.00 198.67,1528.86 199.23,1527.28 199.78,1523.25 200.34,1520.35 200.90,1516.21 201.46,1512.06 202.02,1510.74 202.07,1510.70 202.57,1511.24 203.13,1510.56 203.69,1510.22 204.25,1510.40 204.81,1510.34 205.36,1509.81 205.92,1509.24 206.33,1509.70 206.48,1509.57 207.04,1508.28 207.60,1506.47 208.15,1501.22 208.71,1498.84 209.27,1496.23 209.83,1494.42 209.93,1494.30 210.39,1493.37 210.94,1494.17 211.50,1493.01 212.06,1493.13 212.62,1493.20 213.18,1492.37 213.48,1492.40 213.73,1492.21 214.29,1492.04 214.85,1490.99 215.41,1490.57 215.97,1489.54 216.33,1490.00 216.52,1490.07 217.08,1490.97 217.64,1493.62 218.20,1494.90 218.76,1497.20 219.22,1500.10 219.31,1500.65 219.87,1506.04 220.43,1511.01 220.63,1511.60 220.99,1512.61 221.55,1512.63 222.11,1511.92 222.66,1512.33 223.22,1512.82 223.78,1511.80 224.22,1512.60 224.34,1512.68 224.90,1514.03 225.45,1514.89 226.01,1516.86 226.57,1517.81 227.13,1519.70 227.69,1520.29 227.78,1520.30 228.24,1520.00 228.80,1520.20 229.36,1520.34 229.92,1518.73 230.48,1519.43 231.03,1517.55 231.59,1517.06 232.15,1517.74 232.71,1517.55 233.27,1517.41 233.48,1517.40 233.82,1517.43 234.38,1517.85 234.94,1518.93 235.50,1518.86 236.06,1519.78 236.61,1519.54 237.07,1520.30 237.17,1520.34 237.73,1520.92 238.29,1520.30 238.85,1520.57 239.40,1521.43 239.96,1522.14 240.52,1521.30 240.63,1521.30 241.08,1521.02 241.64,1521.36 242.19,1520.53 242.75,1520.50 243.31,1519.20 243.87,1518.10 244.22,1518.40 244.43,1518.34 244.99,1517.57 245.54,1518.72 246.10,1518.41 246.66,1517.32 247.22,1518.76 247.78,1517.91 248.33,1517.20 248.89,1517.71 249.22,1517.40 249.45,1517.19 250.01,1514.85 250.57,1513.54 251.12,1510.85 251.68,1506.47 252.24,1505.34 252.80,1503.34 253.36,1502.04 253.48,1502.00 253.91,1501.91 254.47,1501.82 255.03,1502.39 255.59,1503.72 256.15,1503.63 256.37,1503.90 256.70,1505.12 257.26,1508.77 257.82,1513.73 258.38,1517.17 258.48,1517.40 258.94,1518.04 259.49,1518.79 260.05,1518.63 260.61,1520.94 261.17,1519.41 261.73,1520.04 262.28,1520.17 262.84,1520.48 263.40,1521.21 263.48,1521.30 263.96,1522.78 264.52,1523.99 265.07,1524.07 265.63,1525.10 265.63,1525.10 266.19,1526.41 266.75,1524.68 267.31,1524.12 267.87,1523.27 268.42,1523.12 268.98,1522.95 269.54,1522.14 270.10,1521.36 270.63,1521.30 270.66,1521.27 271.21,1520.79 271.77,1517.31 272.33,1515.54 272.89,1512.79 273.45,1510.00 274.00,1508.54 274.22,1507.80 274.56,1507.08 275.12,1504.82 275.68,1502.89 276.24,1501.82 276.79,1500.19 277.35,1498.71 277.78,1498.10 277.91,1497.91 278.47,1497.52 279.03,1496.85 279.58,1495.92 280.14,1495.07 280.70,1496.01 281.26,1494.86 281.82,1495.86 282.37,1493.45 282.78,1493.30 282.93,1493.11 283.49,1492.55 284.05,1492.14 284.61,1490.60 285.16,1490.16 285.72,1489.41 286.28,1488.39 286.84,1487.48 287.40,1486.38 287.95,1484.76 288.48,1482.70 288.51,1482.59 289.07,1478.40 289.63,1473.16 290.19,1467.96 290.63,1465.40 290.75,1464.92 291.30,1462.04 291.86,1460.94 292.42,1458.60 292.98,1457.56 293.48,1457.60 293.54,1457.60 294.09,1456.39 294.65,1457.04 295.21,1457.69 295.77,1457.42 296.33,1457.60 296.37,1457.60 296.88,1457.52 297.44,1454.29 298.00,1451.49 298.56,1447.53 299.12,1442.97 299.22,1442.20 299.67,1438.25 300.23,1432.51 300.79,1425.85 301.35,1420.18 301.91,1413.25 302.07,1411.40 302.46,1406.44 303.02,1401.33 303.58,1394.51 304.14,1388.86 304.22,1388.20 304.70,1383.93 305.25,1381.11 305.81,1377.98 306.37,1375.45 306.93,1383.07 307.48,1391.02 308.04,1399.23 308.48,1407.50 308.60,1409.66 309.15,1422.70 309.71,1437.03 310.26,1449.02 310.63,1455.70 310.82,1457.96 311.38,1464.56 311.93,1469.61 312.49,1473.09 313.04,1476.83 313.48,1478.90 313.60,1479.44 314.16,1481.51 314.71,1482.99 315.27,1484.79 315.83,1485.80 316.38,1487.54 316.94,1489.82 317.07,1490.40 317.49,1492.42 318.05,1497.22 318.61,1501.73 319.16,1503.88 319.22,1503.90 319.72,1503.69 320.27,1501.97 320.83,1501.48 321.39,1499.77 321.94,1499.11 322.50,1498.20 322.78,1498.10 323.06,1498.13 323.61,1497.97 324.17,1497.57 324.72,1498.60 324.81,1498.60 325.28,1498.82 325.84,1496.74 326.39,1494.57 326.95,1492.30 327.50,1489.09 328.06,1486.17 328.62,1482.13 329.17,1478.40 329.52,1476.40 329.73,1475.11 330.29,1470.72 330.84,1466.32 331.40,1460.79 331.95,1457.64 332.51,1455.50 332.67,1455.20 333.07,1454.46 333.62,1453.98 334.18,1453.46 334.73,1453.29 335.29,1452.77 335.85,1452.07 336.40,1451.50 336.96,1452.64 337.37,1452.00 337.52,1452.02 338.07,1452.66 338.63,1452.38 339.18,1453.42 339.74,1455.31 340.30,1456.77 340.52,1457.30 340.85,1457.92 341.41,1461.66 341.96,1462.94 342.52,1467.13 343.08,1469.29 343.63,1470.00 343.67,1470.00 344.19,1471.02 344.75,1468.30 345.30,1467.48 345.86,1466.06 346.41,1464.34 346.97,1462.64 347.53,1463.02 348.08,1461.59 348.37,1461.50 348.64,1461.60 349.20,1462.55 349.75,1463.90 350.31,1464.76 350.86,1467.47 351.42,1469.63 351.52,1470.00 351.98,1472.48 352.53,1475.27 353.09,1481.51 353.64,1484.84 354.20,1488.75 354.67,1489.10 354.76,1489.19 355.31,1489.06 355.87,1490.48 356.43,1490.26 356.98,1490.36 357.54,1490.28 358.09,1491.85 358.59,1491.20 358.65,1491.22 359.21,1491.24 359.76,1491.14 360.32,1492.05 360.87,1492.01 361.43,1491.92 361.99,1492.98 362.54,1492.55 363.10,1493.40 363.66,1493.80 364.21,1493.08 364.77,1493.30 364.89,1493.30 365.32,1493.46 365.88,1491.96 366.44,1490.48 366.99,1488.64 367.55,1487.11 368.10,1485.94 368.66,1484.94 368.81,1484.90 369.22,1484.97 369.77,1484.79 370.33,1485.48 370.89,1486.03 371.44,1486.12 372.00,1486.18 372.55,1486.38 373.11,1487.83 373.52,1487.00 373.67,1486.98 374.22,1486.07 374.78,1486.43 375.33,1484.93 375.89,1482.76 376.45,1481.80 377.00,1479.17 377.56,1478.96 378.12,1478.51 378.22,1478.50 378.67,1478.16 379.23,1479.16 379.78,1479.67 380.34,1479.26 380.90,1480.24 381.37,1480.60 381.45,1480.70 382.01,1481.17 382.57,1483.61 383.12,1485.71 383.68,1489.08 384.23,1491.12 384.79,1493.11 385.30,1495.50 385.35,1495.68 385.90,1498.17 386.46,1500.75 387.01,1503.18 387.57,1504.81 388.13,1506.19 388.44,1506.10 388.68,1505.95 389.24,1504.53 389.80,1502.32 390.35,1499.74 390.91,1497.48 391.46,1495.73 391.59,1495.50 392.02,1495.66 392.58,1493.00 393.13,1493.38 393.69,1492.38 394.24,1490.88 394.80,1491.95 395.36,1491.11 395.91,1491.05 396.30,1491.20 396.47,1491.30 397.03,1493.45 397.58,1495.73 398.14,1499.18 398.69,1501.74 399.25,1503.71 399.44,1504.00 399.81,1504.31 400.36,1504.36 400.92,1505.27 401.47,1505.81 402.03,1505.81 402.59,1506.45 403.14,1507.34 403.70,1505.03 404.15,1506.10 404.26,1506.09 404.81,1505.39 405.37,1503.98 405.92,1503.42 406.48,1501.93 407.04,1500.54 407.59,1499.87 408.11,1499.70 408.15,1499.71 408.70,1502.98 409.26,1507.87 409.82,1513.20 410.37,1516.65 410.44,1516.70 410.93,1515.36 411.49,1516.04 412.04,1513.48 412.60,1512.64 413.15,1511.11 413.71,1510.04 414.27,1508.44 414.82,1506.72 415.19,1506.10 415.38,1505.87 415.94,1505.77 416.49,1505.49 417.05,1504.27 417.60,1503.12 418.16,1503.46 418.72,1502.33 419.27,1501.98 419.83,1501.80 420.38,1501.82 420.67,1501.80 420.94,1501.87 421.50,1503.04 422.05,1503.55 422.61,1503.27 423.17,1504.82 423.72,1506.91 424.28,1507.77 424.59,1508.20 424.83,1508.46 425.39,1508.98 425.95,1510.12 426.50,1510.76 427.06,1510.65 427.61,1511.49 428.17,1511.11 428.73,1511.54 429.28,1512.87 429.84,1512.38 430.11,1512.40 430.40,1512.25 430.95,1511.65 431.51,1510.19 432.06,1508.35 432.62,1505.65 433.18,1506.10 433.22,1506.10 433.73,1506.82 434.29,1506.60 434.84,1507.99 435.40,1509.59 435.96,1511.95 436.37,1512.40 436.51,1512.80 437.07,1515.07 437.63,1516.14 438.18,1520.02 438.74,1522.23 439.29,1523.97 439.85,1526.29 440.30,1527.30 440.41,1527.42 440.96,1528.18 441.52,1529.25 442.07,1528.92 442.63,1529.27 443.19,1529.38 443.44,1529.40 443.74,1529.64 444.30,1526.37 444.86,1524.72 445.41,1520.60 445.97,1517.39 446.52,1514.59 447.08,1512.66 447.37,1512.40 447.64,1512.49 448.19,1513.28 448.75,1514.16 449.31,1515.17 449.86,1516.32 450.42,1516.69 450.52,1516.70 450.97,1516.66 451.53,1515.55 452.09,1515.52 452.64,1513.93 453.20,1514.46 453.75,1512.93 454.31,1513.47 454.87,1513.97 455.22,1512.40 455.42,1512.70 455.98,1516.19 456.54,1520.77 457.09,1525.16 457.59,1527.30 457.65,1527.30 458.20,1527.37 458.76,1526.16 459.32,1525.97 459.87,1525.82 460.43,1525.94 460.98,1524.63 461.54,1523.79 462.10,1523.31 462.65,1521.63 463.11,1520.90 463.21,1520.70 463.77,1518.08 464.32,1516.72 464.88,1513.84 465.43,1511.27 465.99,1507.73 466.55,1506.23 467.04,1506.10 467.10,1506.11 467.66,1507.78 468.21,1508.86 468.77,1512.31 469.33,1514.99 469.88,1518.31 470.44,1519.94 470.96,1520.90 471.00,1520.90 471.55,1520.41 472.11,1517.15 472.66,1515.68 473.22,1512.15 473.78,1508.05 474.33,1505.10 474.89,1503.20 475.44,1501.92 475.67,1501.80 476.00,1501.31 476.56,1503.91 477.11,1506.24 477.67,1508.51 477.78,1508.90 478.23,1511.96 478.78,1514.18 479.34,1515.92 479.89,1518.30 480.30,1517.90 480.45,1517.86 481.01,1516.75 481.56,1515.70 482.12,1513.27 482.68,1510.97 483.23,1509.75 483.79,1508.12 484.34,1507.73 484.48,1507.70 484.90,1507.81 485.46,1508.68 486.01,1509.87 486.57,1510.21 487.12,1512.40 487.68,1513.20 487.85,1513.40 488.24,1513.24 488.79,1513.35 489.35,1514.76 489.91,1515.56 490.46,1516.57 491.02,1516.92 491.57,1517.49 492.13,1517.31 492.69,1518.00 493.24,1517.56 493.80,1518.13 494.35,1517.89 494.56,1517.90 494.91,1517.99 495.47,1517.07 496.02,1518.14 496.58,1516.72 497.14,1516.73 497.69,1516.26 498.25,1515.63 498.80,1516.51 499.36,1515.71 499.59,1515.70 499.92,1516.35 500.47,1519.30 501.03,1524.23 501.58,1527.58 502.11,1529.30 502.14,1529.30 502.70,1528.44 503.25,1527.18 503.81,1524.23 504.37,1521.84 504.92,1519.10 505.48,1517.10 506.03,1513.72 506.59,1509.74 507.15,1510.00 507.15,1510.00 507.70,1509.52 508.26,1509.63 508.81,1508.81 509.37,1506.95 509.93,1507.96 510.48,1507.58 511.04,1507.43 511.60,1507.55 512.15,1505.89 512.71,1506.44 513.04,1505.50 513.26,1505.14 513.82,1503.89 514.38,1502.84 514.93,1499.06 515.49,1496.28 516.04,1495.45 516.60,1493.31 517.16,1493.01 517.22,1493.00 517.71,1492.86 518.27,1494.86 518.83,1495.63 519.38,1497.64 519.94,1497.95 520.49,1500.76 521.05,1500.44 521.41,1500.90 521.61,1500.85 522.16,1499.51 522.72,1499.06 523.28,1497.82 523.83,1496.88 524.39,1494.59 524.94,1493.23 525.50,1491.97 526.06,1492.43 526.44,1490.70 526.61,1490.76 527.17,1491.69 527.72,1493.82 528.28,1495.91 528.84,1499.43 529.39,1500.71 529.95,1502.59 530.51,1504.24 530.67,1504.30 531.06,1504.41 531.62,1503.46 532.17,1500.92 532.73,1499.54 533.29,1496.45 533.84,1494.37 534.40,1492.20 534.85,1490.70 534.95,1490.40 535.51,1488.22 536.07,1486.45 536.62,1485.81 537.18,1482.85 537.74,1482.21 538.22,1481.70 538.29,1481.62 538.85,1480.82 539.40,1481.11 539.96,1480.37 540.52,1479.52 541.07,1480.07 541.63,1479.75 542.18,1480.27 542.74,1478.61 543.30,1478.46 543.85,1478.26 544.41,1477.64 544.93,1477.10 544.97,1477.04 545.52,1475.13 546.08,1472.00 546.63,1469.24 547.19,1465.46 547.75,1462.68 548.26,1461.30 548.30,1461.18 548.86,1460.24 549.41,1458.11 549.97,1457.75 550.53,1457.07 551.08,1455.79 551.64,1454.15 552.20,1453.04 552.75,1453.59 553.30,1452.20 553.31,1452.18 553.86,1450.38 554.42,1450.15 554.98,1448.46 555.53,1446.30 556.09,1444.85 556.65,1442.92 557.20,1443.66 557.52,1443.20 557.76,1443.20 558.31,1443.55 558.87,1443.23 559.43,1443.98 559.98,1443.03 560.54,1443.48 561.09,1443.59 561.65,1443.20 561.70,1443.20 562.21,1443.15 562.76,1440.76 563.32,1437.55 563.88,1434.17 564.43,1430.86 564.99,1427.72 565.07,1427.30 565.54,1424.79 566.10,1421.31 566.66,1418.13 567.21,1414.89 567.77,1413.49 568.32,1411.59 568.41,1411.40 568.88,1409.69 569.44,1409.38 569.99,1408.56 570.55,1407.56 571.11,1407.86 571.66,1407.29 572.22,1406.66 572.77,1406.45 573.33,1404.98 573.89,1405.03 574.30,1403.50 574.44,1403.10 575.00,1400.86 575.55,1396.98 576.11,1393.90 576.67,1391.35 576.81,1391.00 577.22,1390.21 577.78,1389.29 578.34,1389.48 578.89,1388.83 579.45,1388.74 580.00,1388.10 580.56,1387.35 581.00,1386.50 581.12,1386.20 581.67,1383.03 582.23,1379.73 582.78,1372.82 583.34,1369.43 583.52,1368.40 583.90,1366.58 584.45,1364.11 585.01,1361.06 585.57,1358.27 586.04,1358.20 586.12,1358.16 586.68,1358.41 587.23,1358.49 587.79,1357.45 588.35,1357.87 588.90,1357.32 589.46,1356.73 590.02,1357.12 590.57,1356.40 591.07,1357.00 591.13,1356.96 591.68,1355.88 592.24,1353.33 592.80,1349.02 593.35,1345.91 593.91,1343.45 594.44,1342.30 594.46,1342.30 595.02,1342.53 595.58,1344.92 596.13,1346.18 596.69,1349.33 597.25,1351.99 597.80,1352.55 598.36,1354.65 598.63,1354.80 598.91,1354.51 599.47,1351.68 600.03,1349.15 600.58,1344.42 601.14,1340.65 601.69,1336.41 602.00,1334.40 602.25,1333.03 602.81,1329.44 603.36,1326.20 603.92,1322.73 604.48,1320.84 605.03,1319.50 605.33,1318.50 605.59,1318.11 606.14,1317.02 606.70,1316.45 607.26,1316.55 607.81,1314.98 608.37,1316.36 608.92,1314.92 609.48,1315.67 610.04,1314.79 610.37,1314.00 610.59,1313.82 611.15,1313.42 611.71,1313.01 612.26,1312.71 612.82,1311.66 613.37,1311.39 613.74,1311.70 613.93,1311.76 614.49,1312.37 615.04,1314.02 615.60,1315.69 616.15,1317.21 616.71,1317.98 617.11,1318.50 617.27,1318.46 617.82,1317.44 618.38,1316.07 618.94,1315.00 619.49,1313.32 620.05,1312.30 620.44,1311.70 620.60,1311.73 621.16,1311.61 621.72,1313.09 622.27,1313.27 622.83,1316.69 623.39,1318.22 623.94,1318.67 624.50,1320.43 624.67,1320.80 625.05,1320.72 625.61,1322.52 626.17,1323.32 626.72,1323.66 627.28,1325.32 627.83,1327.10 628.00,1327.60 628.39,1329.78 628.95,1333.60 629.50,1338.52 630.06,1342.15 630.52,1343.40 630.62,1343.40 631.17,1343.29 631.73,1343.70 632.28,1342.41 632.84,1343.71 633.40,1343.01 633.95,1343.46 634.51,1343.40 634.70,1343.40 635.06,1342.95 635.62,1345.47 636.18,1346.57 636.73,1349.25 637.29,1352.68 637.85,1354.61 638.40,1356.74 638.93,1357.00 638.96,1357.00 639.51,1356.86 640.07,1356.17 640.63,1353.38 641.18,1352.54 641.74,1351.14 642.26,1350.20 642.29,1350.20 642.85,1349.74 643.41,1350.11 643.96,1350.90 644.52,1351.19 645.08,1352.42 645.63,1352.50 645.63,1352.50 646.19,1353.96 646.74,1357.70 647.30,1362.61 647.86,1366.21 648.15,1368.00 648.41,1369.39 648.97,1371.76 649.52,1374.87 650.08,1376.85 650.64,1380.19 650.78,1381.10 651.19,1384.93 651.75,1391.87 652.31,1397.39 652.56,1398.10 652.86,1398.10 653.42,1397.96 653.97,1396.83 654.53,1397.69 655.09,1397.01 655.64,1395.54 656.19,1395.70 656.20,1395.69 656.75,1393.98 657.31,1393.40 657.87,1392.37 658.42,1390.71 658.98,1388.90 659.54,1387.11 660.09,1384.36 660.65,1382.26 661.20,1381.21 661.59,1378.60 661.76,1377.83 662.32,1374.56 662.87,1370.18 663.43,1366.87 663.99,1362.29 664.54,1359.35 665.10,1356.95 665.22,1356.70 665.65,1356.57 666.21,1354.96 666.77,1355.48 667.32,1354.55 667.88,1354.54 668.43,1354.66 668.99,1353.45 669.55,1352.46 670.10,1352.42 670.63,1351.80 670.66,1351.76 671.22,1349.97 671.77,1348.04 672.33,1346.98 672.88,1345.32 673.33,1344.50 673.44,1344.51 674.00,1344.04 674.55,1345.44 675.11,1346.88 675.66,1348.88 676.22,1349.96 676.78,1350.94 677.33,1352.15 677.85,1351.80 677.89,1351.80 678.45,1350.83 679.00,1348.98 679.56,1347.43 680.11,1345.19 680.56,1342.10 680.67,1341.02 681.23,1329.04 681.78,1312.24 682.34,1300.86 682.37,1300.60 682.89,1297.41 683.45,1292.95 684.01,1290.55 684.56,1287.69 685.12,1287.12 685.68,1286.11 685.96,1286.00 686.23,1286.29 686.79,1288.21 687.34,1290.09 687.78,1290.90 687.90,1290.78 688.46,1287.42 689.01,1282.15 689.57,1273.14 690.12,1265.46 690.48,1261.60 690.68,1259.28 691.24,1252.32 691.79,1245.33 692.30,1242.10 692.35,1241.99 692.91,1242.16 693.46,1240.71 694.02,1239.00 694.57,1239.46 695.13,1238.00 695.69,1239.68 696.24,1239.25 696.80,1237.33 696.81,1237.30 697.36,1234.14 697.91,1228.60 698.47,1223.93 698.63,1222.60 699.02,1219.36 699.58,1214.99 700.14,1211.03 700.69,1207.70 701.25,1203.63 701.33,1203.10 701.80,1200.52 702.36,1197.30 702.92,1194.76 703.11,1193.40 703.47,1190.13 704.03,1181.94 704.59,1174.79 704.93,1171.40 705.14,1170.24 705.70,1167.19 706.25,1165.81 706.81,1163.67 707.37,1162.67 707.63,1161.70 707.92,1160.53 708.48,1159.22 709.03,1155.65 709.59,1153.66 710.15,1150.75 710.70,1148.37 711.26,1145.50 711.82,1148.99 712.37,1152.51 712.93,1153.94 713.49,1155.94 714.04,1159.90 714.60,1161.02 714.85,1161.70 715.16,1162.20 715.71,1163.96 716.27,1164.74 716.83,1164.03 717.38,1165.92 717.59,1166.60 717.94,1170.50 718.50,1187.93 719.05,1205.51 719.37,1210.40 719.61,1212.08 720.17,1215.67 720.72,1217.14 721.28,1218.91 721.84,1219.64 722.39,1221.77 722.95,1224.81 723.00,1225.10 723.51,1228.67 724.06,1234.48 724.62,1240.06 724.78,1242.10 725.18,1248.88 725.73,1263.25 726.29,1277.02 726.59,1281.10 726.85,1283.81 727.40,1288.87 727.96,1292.70 728.52,1296.10 729.07,1299.51 729.30,1300.60 729.63,1302.21 730.19,1303.65 730.74,1305.53 731.30,1306.38 731.86,1309.43 732.04,1310.40 732.41,1313.40 732.97,1319.03 733.53,1329.44 734.08,1336.50 734.64,1347.71 734.74,1349.40 735.20,1358.09 735.75,1368.36 736.31,1380.00 736.52,1383.50 736.87,1388.89 737.42,1398.13 737.98,1405.51 738.33,1407.90 738.54,1409.15 739.09,1410.59 739.65,1414.36 740.21,1414.98 740.76,1415.78 741.32,1418.90 741.88,1421.92 741.96,1422.50 742.43,1428.15 742.99,1441.41 743.55,1450.05 743.74,1451.80 744.10,1454.32 744.66,1455.47 745.22,1458.85 745.77,1460.74 746.33,1463.58 746.89,1463.50 747.44,1464.65 748.00,1465.97 748.26,1466.40 748.56,1466.69 749.11,1467.58 749.67,1467.83 750.23,1469.34 750.78,1468.96 751.34,1469.49 751.90,1470.47 752.45,1470.94 752.78,1471.30 753.01,1472.33 753.57,1478.29 754.12,1486.07 754.68,1495.31 755.24,1499.87 755.48,1500.50 755.79,1500.46 756.35,1500.91 756.91,1500.11 757.46,1500.11 758.02,1499.85 758.58,1500.36 759.13,1499.33 759.69,1498.81 760.25,1498.17 760.80,1498.18 760.93,1498.10 761.36,1498.28 761.92,1496.58 762.47,1496.60 763.03,1495.63 763.59,1494.47 764.14,1493.80 764.70,1493.82 765.26,1493.22 765.44,1493.20 765.82,1493.13 766.37,1493.24 766.93,1493.29 767.49,1493.71 768.04,1494.11 768.60,1493.68 769.16,1494.50 769.71,1494.53 770.27,1495.93 770.83,1495.58 770.85,1495.60 771.38,1496.29 771.94,1496.26 772.50,1496.79 773.05,1497.31 773.61,1498.45 774.17,1498.50 774.72,1499.94 775.28,1500.91 775.84,1501.31 776.26,1503.00 776.39,1503.33 776.95,1505.52 777.51,1508.70 778.06,1511.73 778.62,1514.23 779.18,1517.82 779.73,1519.66 779.89,1520.00 780.29,1521.52 780.85,1521.61 781.40,1523.25 781.96,1523.13 782.52,1523.86 783.07,1523.79 783.63,1525.17 784.19,1524.89 784.37,1524.90 784.74,1525.06 785.30,1524.99 785.86,1524.67 786.41,1524.20 786.97,1523.88 787.53,1523.15 788.08,1522.01 788.64,1522.69 788.89,1522.50 789.20,1522.77 789.75,1522.82 790.31,1521.16 790.87,1519.62 791.42,1518.74 791.98,1518.73 792.54,1517.65 793.09,1516.57 793.65,1516.30 794.21,1515.32 794.33,1515.20 794.76,1514.65 795.32,1514.35 795.88,1514.36 796.43,1513.24 796.99,1513.65 797.55,1513.42 797.93,1512.70 798.10,1512.96 798.66,1515.59 799.22,1520.47 799.74,1522.50 799.77,1522.50 800.33,1522.71 800.89,1521.65 801.44,1518.79 802.00,1515.20" fill="none" stroke="#2a2926" stroke-width="2.3" stroke-linejoin="miter" stroke-miterlimit="30" stroke-linecap="butt"/>
<path transform="scale(1.0,1)" d="M156.00,1529.7 158.70,1533.0 161.40,1530.2 164.10,1525.6 166.80,1526.5 169.50,1529.6 172.20,1527.1 174.90,1526.6 177.60,1516.5 180.30,1522.2 183.00,1520.2 185.70,1511.6 188.40,1512.7 191.10,1512.0 193.80,1512.8 196.50,1516.0 199.20,1512.9 201.90,1512.4 204.60,1516.5 207.30,1518.5 210.00,1513.9 212.70,1512.9 215.40,1506.3 218.10,1509.4 220.80,1510.9 223.50,1505.8 226.20,1503.0 228.90,1497.2 231.60,1500.7 234.30,1496.5 237.00,1502.6 239.70,1504.7 242.40,1503.5 245.10,1500.5 247.80,1501.0 250.50,1496.0 253.20,1495.6 255.90,1493.1 258.60,1493.0 261.30,1487.9 264.00,1500.4 266.70,1507.0 269.40,1508.2 272.10,1512.5 274.80,1515.1 277.50,1506.9 280.20,1512.2 282.90,1507.4 285.60,1504.5 288.30,1506.5 291.00,1503.4 293.70,1503.2 296.40,1498.3 299.10,1492.3 301.80,1484.4 304.50,1466.9 307.20,1431.0 309.90,1393.5 312.60,1369.7 315.30,1355.6 318.00,1359.0 320.70,1382.0 323.40,1417.1 326.10,1441.7 328.80,1453.8 331.50,1466.2 334.20,1469.4 336.90,1473.0 339.60,1472.7 342.30,1474.5 345.00,1473.3 347.70,1482.9 350.40,1481.7 353.10,1487.7 355.80,1493.9 358.50,1497.0 361.20,1500.5 363.90,1504.0 366.60,1501.2 369.30,1507.6 372.00,1513.0 374.70,1516.1 377.40,1513.4 380.10,1522.3 382.80,1521.6 385.50,1516.6 388.20,1514.1 390.90,1515.1 393.60,1516.9 396.30,1514.5 399.00,1511.8 401.70,1514.8 404.40,1517.5 407.10,1515.2 409.80,1513.5 412.50,1514.8 415.20,1508.5 417.90,1517.2 420.60,1516.0 423.30,1521.9 426.00,1524.6 428.70,1522.4 431.40,1520.1 434.10,1520.0 436.80,1521.7 439.50,1518.3 442.20,1520.9 444.90,1525.3 447.60,1527.8 450.30,1527.1 453.00,1527.0 455.70,1531.0 458.40,1523.7 461.10,1518.1 463.80,1508.6 466.50,1504.4 469.20,1500.0 471.90,1505.8 474.60,1511.5 477.30,1516.5 480.00,1523.4 482.70,1528.5 485.40,1525.8 488.10,1528.0 490.80,1528.8 493.50,1522.9 496.20,1522.4 498.90,1520.4 501.60,1504.6 504.30,1488.6 507.00,1473.7 509.70,1455.5 512.40,1446.5 515.10,1446.4 517.80,1461.3 520.50,1491.7 523.20,1506.2 525.90,1512.7 528.60,1519.7 531.30,1527.5 534.00,1530.8 536.70,1524.7 539.40,1523.3 542.10,1517.2 544.80,1506.4 547.50,1511.1 550.20,1514.8 552.90,1508.4 555.60,1509.1 558.30,1509.9 561.00,1502.4 563.70,1498.1 566.40,1495.5 569.10,1490.5 571.80,1494.4 574.50,1489.7 577.20,1492.2 579.90,1493.1 582.60,1494.2 585.30,1489.7 588.00,1495.5 590.70,1499.0 593.40,1500.5 596.10,1511.3 598.80,1512.4 601.50,1513.4 604.20,1516.9 606.90,1514.0 609.60,1515.8 612.30,1517.9 615.00,1520.2 617.70,1520.8 620.40,1522.8 623.10,1516.3 625.80,1518.3 628.50,1512.3 631.20,1513.8 633.90,1518.7 636.60,1514.4 639.30,1520.7 642.00,1523.3 644.70,1518.7 647.40,1519.3 650.10,1521.1 652.80,1519.1 655.50,1519.3 658.20,1517.1 660.90,1520.1 663.60,1518.7 666.30,1517.6 669.00,1512.5 671.70,1515.8 674.40,1515.4 677.10,1513.2 679.80,1506.6 682.50,1505.8 685.20,1504.0 687.90,1501.4 690.60,1505.0 693.30,1506.0 696.00,1510.3 698.70,1517.4 701.40,1521.2 704.10,1520.0 706.80,1519.9 709.50,1522.5 712.20,1523.3 714.90,1523.9 717.60,1520.7 720.30,1518.4 723.00,1519.7 725.70,1526.3 728.40,1523.3 731.10,1517.1 733.80,1518.5 736.50,1509.9 739.20,1509.7 741.90,1508.1 744.60,1503.0 747.30,1502.4 750.00,1499.8 752.70,1493.1 755.40,1495.7 758.10,1496.0 760.80,1492.8 763.50,1489.9 766.20,1494.3 768.90,1489.8 771.60,1486.1 774.30,1483.5 777.00,1483.5 779.70,1482.6 782.40,1470.8 785.10,1465.7 787.80,1462.6 790.50,1458.7 793.20,1457.3 795.90,1457.4 798.60,1455.2 801.30,1451.9 804.00,1451.2 806.70,1447.5 809.40,1437.2 812.10,1423.2 814.80,1414.4 817.50,1402.4 820.20,1389.7 822.90,1382.4 825.60,1377.5 828.30,1382.6 831.00,1394.1 833.70,1416.4 836.40,1436.4 839.10,1459.3 841.80,1467.0 844.50,1473.4 847.20,1479.9 849.90,1483.5 852.60,1486.7 855.30,1490.8 858.00,1498.7 860.70,1502.4 863.40,1506.3 866.10,1503.3 868.80,1498.8 871.50,1499.1 874.20,1499.6 876.90,1500.4 879.60,1493.1 882.30,1491.6 885.00,1483.2 887.70,1479.4 890.40,1476.0 893.10,1468.1 895.80,1459.2 898.50,1452.2 901.20,1453.2 903.90,1452.1 906.60,1457.6 909.30,1450.0 912.00,1449.4 914.70,1459.0 917.40,1452.2 920.10,1456.9 922.80,1463.3 925.50,1466.3 928.20,1470.3 930.90,1471.2 933.60,1471.2 936.30,1464.7 939.00,1463.2 941.70,1461.8 944.40,1463.9 947.10,1466.8 949.80,1471.8 952.50,1476.4 955.20,1484.1 957.90,1487.9 960.60,1487.0 963.30,1489.2 966.00,1489.9 968.70,1489.8 971.40,1490.3 974.10,1492.8 976.80,1489.0 979.50,1494.3 982.20,1491.2 984.90,1492.6 987.60,1493.8 990.30,1490.9 993.00,1482.7 995.70,1485.4 998.40,1487.9 1001.10,1483.3 1003.80,1484.9 1006.50,1489.3 1009.20,1482.6 1011.90,1490.4 1014.60,1476.6 1017.30,1477.0 1020.00,1475.8 1022.70,1476.1 1025.40,1482.1 1028.10,1481.1 1030.80,1482.2 1033.50,1486.1 1036.20,1485.8 1038.90,1491.8 1041.60,1499.2 1044.30,1497.5 1047.00,1506.6 1049.70,1504.2 1052.40,1499.0 1055.10,1499.6 1057.80,1496.6 1060.50,1492.6 1063.20,1491.9 1065.90,1490.3 1068.60,1489.9 1071.30,1487.7 1074.00,1495.4 1076.70,1503.7 1079.40,1502.7 1082.10,1505.1 1084.80,1506.5 1087.50,1505.5 1090.20,1504.5 1092.90,1503.6 1095.60,1501.9 1098.30,1502.2 1101.00,1498.9 1103.70,1506.6 1106.40,1517.3 1109.10,1516.9 1111.80,1510.3 1114.50,1512.0 1117.20,1508.5 1119.90,1505.8 1122.60,1503.7 1125.30,1504.0 1128.00,1510.9 1130.70,1509.9 1133.40,1506.1 1136.10,1499.7 1138.80,1503.7 1141.50,1507.4 1144.20,1505.9 1146.90,1509.5 1149.60,1511.3 1152.30,1513.1 1155.00,1511.4 1157.70,1511.9 1160.40,1511.4 1163.10,1510.1 1165.80,1509.1 1168.50,1506.5 1171.20,1508.7 1173.90,1509.7 1176.60,1510.5 1179.30,1517.0 1182.00,1516.8 1184.70,1522.6 1187.40,1526.2 1190.10,1525.5 1192.80,1527.8 1195.50,1529.5 1198.20,1525.5 1200.90,1519.9 1203.60,1524.8 1206.30,1513.3 1209.00,1512.0 1211.70,1513.5 1214.40,1515.4 1217.10,1518.1 1219.80,1517.0 1222.50,1513.1 1225.20,1514.2 1227.90,1514.0 1230.60,1515.2 1233.30,1524.4 1236.00,1527.4 1238.70,1528.1 1241.40,1521.7 1244.10,1527.4 1246.80,1521.9 1249.50,1518.9 1252.20,1516.3 1254.90,1512.8 1257.60,1511.4 1260.30,1502.0 1263.00,1506.7 1265.70,1515.0 1268.40,1519.1 1271.10,1517.8 1273.80,1517.9 1276.50,1514.1 1279.20,1509.0 1281.90,1504.3 1284.60,1504.1 1287.30,1505.1 1290.00,1509.5 1292.70,1514.4 1295.40,1514.1 1298.10,1514.9 1300.80,1519.4 1303.50,1509.8 1306.20,1512.1 1308.90,1511.0 1311.60,1510.3 1314.30,1511.1 1317.00,1513.3 1319.70,1512.6 1322.40,1514.9 1325.10,1515.1 1327.80,1515.1 1330.50,1516.1 1333.20,1519.4 1335.90,1518.0 1338.60,1517.1 1341.30,1521.3 1344.00,1516.6 1346.70,1517.6 1349.40,1515.0 1352.10,1520.0 1354.80,1528.7 1357.50,1529.0 1360.20,1516.6 1362.90,1520.7 1365.60,1517.1 1368.30,1511.6 1371.00,1511.1 1373.70,1506.6 1376.40,1509.0 1379.10,1504.9 1381.80,1506.0 1384.50,1504.9 1387.20,1503.7 1389.90,1497.4 1392.60,1497.9 1395.30,1495.2 1398.00,1496.6 1400.70,1494.7 1403.40,1498.9 1406.10,1498.3 1408.80,1501.3 1411.50,1496.7 1414.20,1493.7 1416.90,1492.8 1419.60,1495.4 1422.30,1494.9 1425.00,1495.2 1427.70,1498.5 1430.40,1502.3 1433.10,1500.7 1435.80,1506.1 1438.50,1494.3 1441.20,1490.2 1443.90,1490.5 1446.60,1486.1 1449.30,1486.3 1452.00,1484.3 1454.70,1480.6 1457.40,1481.0 1460.10,1478.6 1462.80,1474.6 1465.50,1474.2 1468.20,1485.9 1470.90,1476.8 1473.60,1466.2 1476.30,1464.9 1479.00,1461.6 1481.70,1462.0 1484.40,1458.8 1487.10,1459.9 1489.80,1459.1 1492.50,1454.5 1495.20,1452.4 1497.90,1451.8 1500.60,1446.0 1503.30,1444.2 1506.00,1439.6 1508.70,1444.9 1511.40,1441.3 1514.10,1443.8 1516.80,1448.1 1519.50,1435.2 1522.20,1432.3 1524.90,1426.5 1527.60,1421.4 1530.30,1420.7 1533.00,1410.9 1535.70,1411.5 1538.40,1409.7 1541.10,1410.8 1543.80,1401.9 1546.50,1402.1 1549.20,1406.5 1551.90,1397.0 1554.60,1396.4 1557.30,1393.6 1560.00,1386.5 1562.70,1386.4 1565.40,1389.6 1568.10,1383.8 1570.80,1382.6 1573.50,1376.2 1576.20,1367.3 1578.90,1363.0 1581.60,1359.0 1584.30,1356.4 1587.00,1359.4 1589.70,1359.0 1592.40,1357.1 1595.10,1357.6 1597.80,1350.7 1600.50,1347.3 1603.20,1340.3 1605.90,1341.8 1608.60,1348.0 1611.30,1349.7 1614.00,1350.9 1616.70,1352.8 1619.40,1346.8 1622.10,1343.9 1624.80,1333.0 1627.50,1333.1 1630.20,1326.9 1632.90,1317.7 1635.60,1319.3 1638.30,1318.7 1641.00,1315.3 1643.70,1319.2 1646.40,1312.6 1649.10,1312.7 1651.80,1313.4 1654.50,1313.7 1657.20,1311.0 1659.90,1317.1 1662.60,1313.0 1665.30,1319.9 1668.00,1316.2 1670.70,1314.9 1673.40,1308.0 1676.10,1311.6 1678.80,1307.4 1681.50,1310.3 1684.20,1318.0 1686.90,1323.6 1689.60,1319.7 1692.30,1326.1 1695.00,1332.0 1697.70,1333.5 1700.40,1339.9 1703.10,1342.9 1705.80,1339.0 1708.50,1342.3 1711.20,1343.4 1713.90,1341.0 1716.60,1347.1 1719.30,1348.3 1722.00,1355.0 1724.70,1356.6 1727.40,1355.7 1730.10,1353.9 1732.80,1350.7 1735.50,1353.9 1738.20,1348.7 1740.90,1350.0 1743.60,1353.2 1746.30,1359.8 1749.00,1361.0 1751.70,1374.2 1754.40,1375.4 1757.10,1382.4 1759.80,1389.3 1762.50,1396.7 1765.20,1397.8 1767.90,1395.6 1770.60,1394.4 1773.30,1394.4 1776.00,1392.3 1778.70,1386.9 1781.40,1385.2 1784.10,1379.3 1786.80,1378.3 1789.50,1369.5 1792.20,1366.0 1794.90,1357.0 1797.60,1356.6 1800.30,1357.3 1803.00,1354.5 1805.70,1349.8 1808.40,1355.6 1811.10,1349.9 1813.80,1343.8 1816.50,1349.8 1819.20,1343.7 1821.90,1348.1 1824.60,1348.8 1827.30,1354.0 1830.00,1355.0 1832.70,1344.5 1835.40,1345.7 1838.10,1334.5 1840.80,1313.8 1843.50,1298.3 1846.20,1294.3 1848.90,1287.9 1851.60,1287.9 1854.30,1289.8 1857.00,1292.4 1859.70,1284.0 1862.40,1268.6 1865.10,1256.2 1867.80,1247.7 1870.50,1235.8 1873.20,1239.7 1875.90,1236.5 1878.60,1235.7 1881.30,1234.2 1884.00,1226.5 1886.70,1221.8 1889.40,1210.3 1892.10,1204.6 1894.80,1200.4 1897.50,1194.2 1900.20,1187.8 1902.90,1172.9 1905.60,1172.3 1908.30,1166.2 1911.00,1158.3 1913.70,1155.8 1916.40,1155.1 1919.10,1144.3 1921.80,1145.3 1924.50,1147.9 1927.20,1156.2 1929.90,1163.0 1932.60,1165.4 1935.30,1164.3 1938.00,1167.8 1940.70,1195.9 1943.40,1211.3 1946.10,1217.5 1948.80,1220.3 1951.50,1226.5 1954.20,1230.9 1956.90,1241.9 1959.60,1263.0 1962.30,1281.2 1965.00,1290.3 1967.70,1292.8 1970.40,1298.7 1973.10,1300.2 1975.80,1309.3 1978.50,1322.5 1981.20,1336.2 1983.90,1353.3 1986.60,1369.3 1989.30,1384.8 1992.00,1400.9 1994.70,1409.9 1997.40,1413.9 2000.10,1419.9 2002.80,1419.7 2005.50,1434.0 2008.20,1451.6 2010.90,1457.6 2013.60,1456.6 2016.30,1464.4 2019.00,1467.7 2021.70,1466.0 2024.40,1466.6 2027.10,1468.8 2029.80,1466.7 2032.50,1474.6 2035.20,1482.4 2037.90,1495.2 2040.60,1498.9 2043.30,1500.3 2046.00,1499.1 2048.70,1502.5 2051.40,1496.2 2054.10,1500.8 2056.80,1497.2 2059.50,1495.9 2062.20,1490.3 2064.90,1493.5 2067.60,1492.4 2070.30,1495.0 2073.00,1493.1 2075.70,1493.2 2078.40,1497.0 2081.10,1496.0 2083.80,1495.8 2086.50,1498.6 2089.20,1500.7 2091.90,1500.5 2094.60,1502.1 2097.30,1508.7 2100.00,1509.9 2102.70,1510.0 2105.40,1521.2 2108.10,1523.7 2110.80,1524.2 2113.50,1525.1 2116.20,1519.7 2118.90,1522.6 2121.60,1524.2 2124.30,1523.8 2127.00,1522.8 2129.70,1518.8 2132.40,1519.3 2135.10,1518.9 2137.80,1520.5 2140.50,1521.7 2143.20,1512.3 2145.90,1514.8 2148.60,1511.9 2151.30,1515.3 2154.00,1513.1 2156.70,1518.0 2159.40,1522.3 2162.10,1517.4" fill="none" stroke="#2a2926" stroke-width="2.3" stroke-linejoin="round"/>
<g fill="#000">
<rect x="157.5" y="18" width="2018.5" height="7.5"/>
<rect x="157.5" y="1613.5" width="2018.5" height="8.5"/>
<rect x="157.5" y="18" width="8.2" height="1604"/>
<rect x="2167.5" y="18" width="8.5" height="1604"/>
<rect x="268.6" y="1620" width="8" height="18.5"/>
<rect x="506.0" y="1620" width="8" height="18.5"/>
<rect x="743.3" y="1620" width="8" height="18.5"/>
<rect x="980.7" y="1620" width="8" height="18.5"/>
<rect x="1218.1" y="1620" width="8" height="18.5"/>
<rect x="1455.4" y="1620" width="8" height="18.5"/>
<rect x="1692.8" y="1620" width="8" height="18.5"/>
<rect x="1930.2" y="1620" width="8" height="18.5"/>
<rect x="2167.6" y="1620" width="8" height="18.5"/>
</g>
<g font-size="69.3" fill="#000">
<text transform="translate(207.6,1716.3) scale(1,1.015)">200</text>
<text transform="translate(442.2,1715.3) scale(1,1.015)">400</text>
<text transform="translate(678.7,1715.3) scale(1,1.015)">600</text>
<text transform="translate(914.7,1715.3) scale(1,1.015)">800</text>
<text transform="translate(1150.0,1715.2) scale(1,1.015)">1000</text>
<text transform="translate(1386.5,1715.2) scale(1,1.015)">1200</text>
<text transform="translate(1622.3,1715.2) scale(1,1.015)">1400</text>
<text transform="translate(1857.6,1715.2) scale(1,1.015)">1600</text>
</g>
<g font-size="52.3" fill="#000" stroke="#000" stroke-width="0.25">
<text transform="translate(301.0,160.6) rotate(-90) scale(1,1.03)">231</text>
<text transform="translate(378.4,144.1) rotate(-90) scale(1,1.03)">294</text>
<text transform="translate(522.7,325.6) rotate(-90) scale(1,1.03)">416</text>
<text transform="translate(628.3,408.6) rotate(-90) scale(1,1.03)">502</text>
<text transform="translate(767.5,376.8) rotate(-90) scale(1,1.03)">612</text>
<text transform="translate(827.9,405.5) rotate(-90) scale(1,1.03)">670</text>
<text transform="translate(1639.9,363.5) rotate(-90) scale(1,1.03)">1345</text>
<text transform="translate(333.8,623.1) rotate(-90) scale(1,1.03)">251</text>
<text transform="translate(397.2,793.7) rotate(-90) scale(1,1.03)">295</text>
<text transform="translate(495.0,876.3) rotate(-90) scale(1,1.03)">381</text>
<text transform="translate(531.1,799.0) rotate(-90) scale(1,1.03)">415</text>
<text transform="translate(578.7,833.1) rotate(-90) scale(1,1.03)">460</text>
<text transform="translate(614.3,739.7) rotate(-90) scale(1,1.03)">475</text>
<text transform="translate(664.1,853.9) rotate(-90) scale(1,1.03)">515</text>
<text transform="translate(724.6,835.1) rotate(-90) scale(1,1.03)">568</text>
<text transform="translate(805.8,685.7) rotate(-90) scale(1,1.03)">646</text>
<text transform="translate(856.8,661.1) rotate(-90) scale(1,1.03)">677</text>
<text transform="translate(919.8,817.7) rotate(-90) scale(1,1.03)">739</text>
<text transform="translate(1617.4,798.4) rotate(-90) scale(1,1.03)">1312</text>
<text transform="translate(1678.1,757.3) rotate(-90) scale(1,1.03)">1372</text>
<text transform="translate(1954.0,649.9) rotate(-90) scale(1,1.03)">1595</text>
<text transform="translate(328.2,1332.6) rotate(-90) scale(1,1.03)">249</text>
<text transform="translate(478.2,1481.8) rotate(-90) scale(1,1.03)">378</text>
<text transform="translate(522.8,1415.1) rotate(-90) scale(1,1.03)">417</text>
<text transform="translate(592.3,1460.0) rotate(-90) scale(1,1.03)">474</text>
<text transform="translate(700.9,1470.2) rotate(-90) scale(1,1.03)">561</text>
<text transform="translate(797.8,1430.0) rotate(-90) scale(1,1.03)">649</text>
<text transform="translate(839.8,1339.3) rotate(-90) scale(1,1.03)">677</text>
<text transform="translate(922.8,1422.5) rotate(-90) scale(1,1.03)">747</text>
<text transform="translate(1678.8,1306.9) rotate(-90) scale(1,1.03)">1377</text>
<text transform="translate(1928.8,1144.2) rotate(-90) scale(1,1.03)">1591</text>
</g>
<text transform="translate(67.3,1095.9) rotate(-90) scale(1,1.045)" font-size="74.8" fill="#282725">Intensity</text>
<g fill="#000">
<text transform="translate(917.8,1836.2) scale(1,1.01)" font-size="76.8">Raman shift (cm</text>
<text transform="translate(1475.8,1798.5)" font-size="38">-</text>
<text transform="translate(1490.8,1798.5)" font-size="38">1</text>
<text transform="translate(1515.5,1836.2) scale(1,1.01)" font-size="76.8">)</text>
</g>
<g font-weight="bold">
<text transform="translate(1825,430.4) scale(1,1.035)" font-size="66.4" fill="#0000ff">1.0Fe</text>
<text transform="translate(1628,982.4)" font-size="66.1" fill="#ff0000">0.61Fe0.39Co</text>
<text transform="translate(1789.6,1519.5) scale(1,1.025)" font-size="65.8" fill="#000">1.0Co</text>
</g>
</svg></body></html>
